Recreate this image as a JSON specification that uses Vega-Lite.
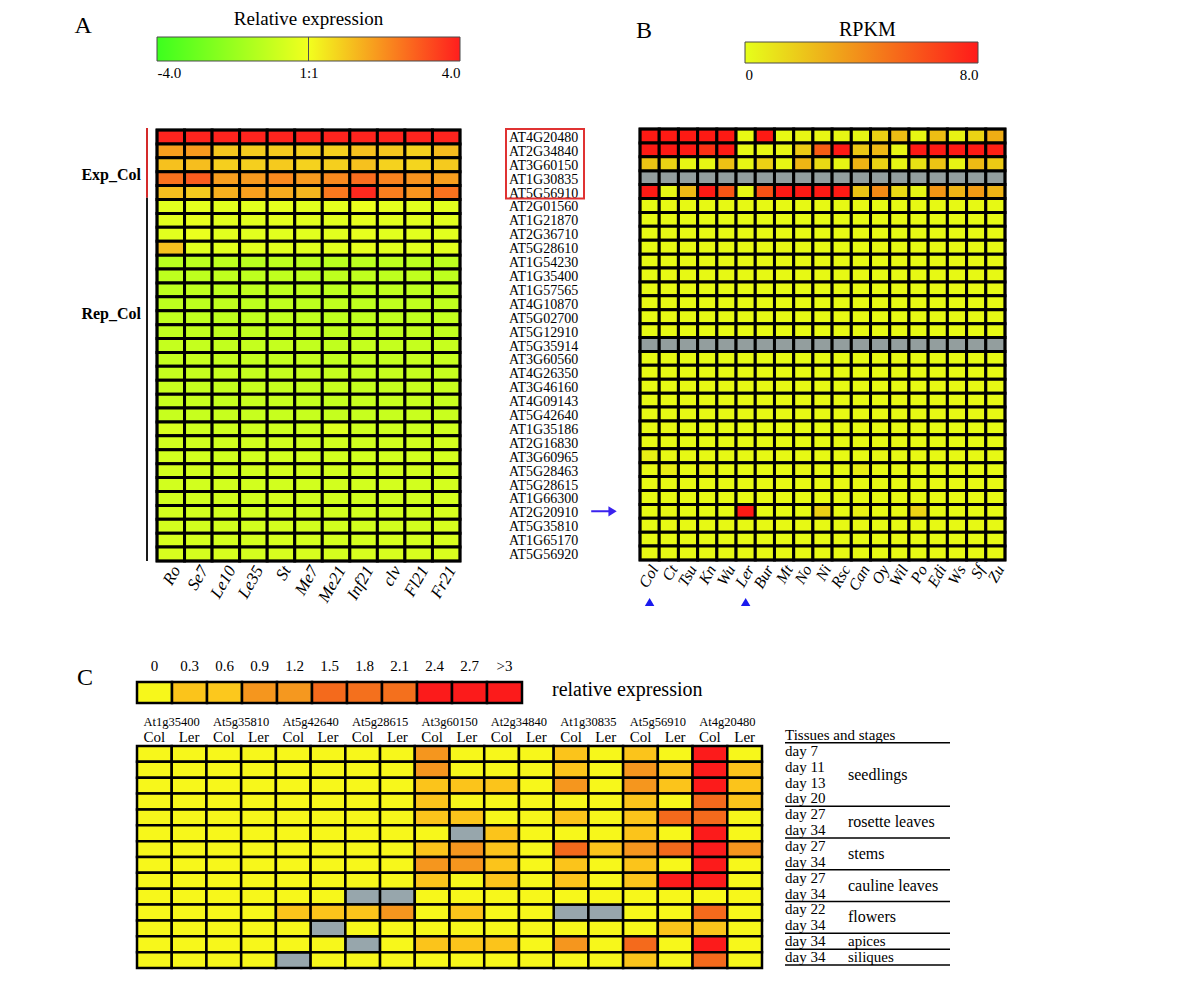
{
"$schema":"https://vega.github.io/schema/vega-lite/v6.json",
"width":1200,"height":1005,"padding":0,"autosize":"none","background":"white",
"config":{"view":{"stroke":null},"axis":{"grid":false,"domain":false,"ticks":false,"labelFont":"Liberation Serif","titleFont":"Liberation Serif","labelColor":"black","titleColor":"black"},"text":{"font":"Liberation Serif","color":"black"}},
"datasets":{
"genes":[{"g":"AT4G20480"},{"g":"AT2G34840"},{"g":"AT3G60150"},{"g":"AT1G30835"},{"g":"AT5G56910"},{"g":"AT2G01560"},{"g":"AT1G21870"},{"g":"AT2G36710"},{"g":"AT5G28610"},{"g":"AT1G54230"},{"g":"AT1G35400"},{"g":"AT1G57565"},{"g":"AT4G10870"},{"g":"AT5G02700"},{"g":"AT5G12910"},{"g":"AT5G35914"},{"g":"AT3G60560"},{"g":"AT4G26350"},{"g":"AT3G46160"},{"g":"AT4G09143"},{"g":"AT5G42640"},{"g":"AT1G35186"},{"g":"AT2G16830"},{"g":"AT3G60965"},{"g":"AT5G28463"},{"g":"AT5G28615"},{"g":"AT1G66300"},{"g":"AT2G20910"},{"g":"AT5G35810"},{"g":"AT1G65170"},{"g":"AT5G56920"}],
"A":[
{"g":"AT4G20480","s":"Ro","v":3.9},{"g":"AT4G20480","s":"Se7","v":3.9},{"g":"AT4G20480","s":"Le10","v":3.9},{"g":"AT4G20480","s":"Le35","v":3.9},{"g":"AT4G20480","s":"St","v":3.9},{"g":"AT4G20480","s":"Me7","v":3.9},{"g":"AT4G20480","s":"Me21","v":3.9},{"g":"AT4G20480","s":"Inf21","v":3.9},{"g":"AT4G20480","s":"clv","v":3.9},{"g":"AT4G20480","s":"Fl21","v":3.9},{"g":"AT4G20480","s":"Fr21","v":3.9},
{"g":"AT2G34840","s":"Ro","v":1.7},{"g":"AT2G34840","s":"Se7","v":1.8},{"g":"AT2G34840","s":"Le10","v":1.0},{"g":"AT2G34840","s":"Le35","v":0.9},{"g":"AT2G34840","s":"St","v":0.95},{"g":"AT2G34840","s":"Me7","v":0.85},{"g":"AT2G34840","s":"Me21","v":0.85},{"g":"AT2G34840","s":"Inf21","v":1.1},{"g":"AT2G34840","s":"clv","v":1.0},{"g":"AT2G34840","s":"Fl21","v":0.8},{"g":"AT2G34840","s":"Fr21","v":1.2},
{"g":"AT3G60150","s":"Ro","v":1.1},{"g":"AT3G60150","s":"Se7","v":1.15},{"g":"AT3G60150","s":"Le10","v":0.85},{"g":"AT3G60150","s":"Le35","v":0.85},{"g":"AT3G60150","s":"St","v":0.95},{"g":"AT3G60150","s":"Me7","v":0.8},{"g":"AT3G60150","s":"Me21","v":0.85},{"g":"AT3G60150","s":"Inf21","v":1.1},{"g":"AT3G60150","s":"clv","v":0.8},{"g":"AT3G60150","s":"Fl21","v":0.75},{"g":"AT3G60150","s":"Fr21","v":0.95},
{"g":"AT1G30835","s":"Ro","v":2.5},{"g":"AT1G30835","s":"Se7","v":2.9},{"g":"AT1G30835","s":"Le10","v":1.7},{"g":"AT1G30835","s":"Le35","v":1.8},{"g":"AT1G30835","s":"St","v":2.1},{"g":"AT1G30835","s":"Me7","v":1.8},{"g":"AT1G30835","s":"Me21","v":2.1},{"g":"AT1G30835","s":"Inf21","v":2.6},{"g":"AT1G30835","s":"clv","v":2.2},{"g":"AT1G30835","s":"Fl21","v":1.9},{"g":"AT1G30835","s":"Fr21","v":1.7},
{"g":"AT5G56910","s":"Ro","v":1.15},{"g":"AT5G56910","s":"Se7","v":0.95},{"g":"AT5G56910","s":"Le10","v":1.4},{"g":"AT5G56910","s":"Le35","v":1.7},{"g":"AT5G56910","s":"St","v":1.5},{"g":"AT5G56910","s":"Me7","v":1.3},{"g":"AT5G56910","s":"Me21","v":2.4},{"g":"AT5G56910","s":"Inf21","v":3.8},{"g":"AT5G56910","s":"clv","v":2.3},{"g":"AT5G56910","s":"Fl21","v":1.9},{"g":"AT5G56910","s":"Fr21","v":2.5},
{"g":"AT2G01560","s":"Ro","v":-0.35},{"g":"AT2G01560","s":"Se7","v":-0.3},{"g":"AT2G01560","s":"Le10","v":-0.35},{"g":"AT2G01560","s":"Le35","v":-0.35},{"g":"AT2G01560","s":"St","v":-0.3},{"g":"AT2G01560","s":"Me7","v":-0.35},{"g":"AT2G01560","s":"Me21","v":-0.3},{"g":"AT2G01560","s":"Inf21","v":-0.15},{"g":"AT2G01560","s":"clv","v":-0.3},{"g":"AT2G01560","s":"Fl21","v":-0.35},{"g":"AT2G01560","s":"Fr21","v":-0.35},
{"g":"AT1G21870","s":"Ro","v":-0.35},{"g":"AT1G21870","s":"Se7","v":-0.25},{"g":"AT1G21870","s":"Le10","v":-0.35},{"g":"AT1G21870","s":"Le35","v":-0.35},{"g":"AT1G21870","s":"St","v":-0.3},{"g":"AT1G21870","s":"Me7","v":-0.35},{"g":"AT1G21870","s":"Me21","v":-0.35},{"g":"AT1G21870","s":"Inf21","v":-0.25},{"g":"AT1G21870","s":"clv","v":-0.35},{"g":"AT1G21870","s":"Fl21","v":-0.35},{"g":"AT1G21870","s":"Fr21","v":-0.35},
{"g":"AT2G36710","s":"Ro","v":-0.35},{"g":"AT2G36710","s":"Se7","v":-0.15},{"g":"AT2G36710","s":"Le10","v":-0.35},{"g":"AT2G36710","s":"Le35","v":-0.35},{"g":"AT2G36710","s":"St","v":-0.35},{"g":"AT2G36710","s":"Me7","v":-0.35},{"g":"AT2G36710","s":"Me21","v":-0.35},{"g":"AT2G36710","s":"Inf21","v":-0.25},{"g":"AT2G36710","s":"clv","v":-0.35},{"g":"AT2G36710","s":"Fl21","v":-0.35},{"g":"AT2G36710","s":"Fr21","v":-0.35},
{"g":"AT5G28610","s":"Ro","v":1.1},{"g":"AT5G28610","s":"Se7","v":-0.35},{"g":"AT5G28610","s":"Le10","v":-0.35},{"g":"AT5G28610","s":"Le35","v":-0.35},{"g":"AT5G28610","s":"St","v":-0.35},{"g":"AT5G28610","s":"Me7","v":-0.35},{"g":"AT5G28610","s":"Me21","v":-0.35},{"g":"AT5G28610","s":"Inf21","v":-0.25},{"g":"AT5G28610","s":"clv","v":-0.35},{"g":"AT5G28610","s":"Fl21","v":-0.35},{"g":"AT5G28610","s":"Fr21","v":-0.35},
{"g":"AT1G54230","s":"Ro","v":-1.25},{"g":"AT1G54230","s":"Se7","v":-1.2},{"g":"AT1G54230","s":"Le10","v":-1.15},{"g":"AT1G54230","s":"Le35","v":-1.25},{"g":"AT1G54230","s":"St","v":-1.15},{"g":"AT1G54230","s":"Me7","v":-1.2},{"g":"AT1G54230","s":"Me21","v":-1.25},{"g":"AT1G54230","s":"Inf21","v":-1.2},{"g":"AT1G54230","s":"clv","v":-1.15},{"g":"AT1G54230","s":"Fl21","v":-1.2},{"g":"AT1G54230","s":"Fr21","v":-1.15},
{"g":"AT1G35400","s":"Ro","v":-1.15},{"g":"AT1G35400","s":"Se7","v":-1.15},{"g":"AT1G35400","s":"Le10","v":-1.1},{"g":"AT1G35400","s":"Le35","v":-1.15},{"g":"AT1G35400","s":"St","v":-1.1},{"g":"AT1G35400","s":"Me7","v":-1.15},{"g":"AT1G35400","s":"Me21","v":-1.15},{"g":"AT1G35400","s":"Inf21","v":-1.1},{"g":"AT1G35400","s":"clv","v":-1.15},{"g":"AT1G35400","s":"Fl21","v":-1.1},{"g":"AT1G35400","s":"Fr21","v":-1.15},
{"g":"AT1G57565","s":"Ro","v":-1.15},{"g":"AT1G57565","s":"Se7","v":-1.1},{"g":"AT1G57565","s":"Le10","v":-1.15},{"g":"AT1G57565","s":"Le35","v":-1.1},{"g":"AT1G57565","s":"St","v":-1.15},{"g":"AT1G57565","s":"Me7","v":-1.1},{"g":"AT1G57565","s":"Me21","v":-1.15},{"g":"AT1G57565","s":"Inf21","v":-1.1},{"g":"AT1G57565","s":"clv","v":-1.1},{"g":"AT1G57565","s":"Fl21","v":-1.15},{"g":"AT1G57565","s":"Fr21","v":-1.05},
{"g":"AT4G10870","s":"Ro","v":-1.15},{"g":"AT4G10870","s":"Se7","v":-1.15},{"g":"AT4G10870","s":"Le10","v":-1.1},{"g":"AT4G10870","s":"Le35","v":-1.15},{"g":"AT4G10870","s":"St","v":-1.1},{"g":"AT4G10870","s":"Me7","v":-1.15},{"g":"AT4G10870","s":"Me21","v":-1.1},{"g":"AT4G10870","s":"Inf21","v":-1.15},{"g":"AT4G10870","s":"clv","v":-1.1},{"g":"AT4G10870","s":"Fl21","v":-1.1},{"g":"AT4G10870","s":"Fr21","v":-1.1},
{"g":"AT5G02700","s":"Ro","v":-1.1},{"g":"AT5G02700","s":"Se7","v":-1.1},{"g":"AT5G02700","s":"Le10","v":-1.15},{"g":"AT5G02700","s":"Le35","v":-1.1},{"g":"AT5G02700","s":"St","v":-1.1},{"g":"AT5G02700","s":"Me7","v":-1.1},{"g":"AT5G02700","s":"Me21","v":-1.15},{"g":"AT5G02700","s":"Inf21","v":-1.1},{"g":"AT5G02700","s":"clv","v":-1.1},{"g":"AT5G02700","s":"Fl21","v":-1.15},{"g":"AT5G02700","s":"Fr21","v":-1.05},
{"g":"AT5G12910","s":"Ro","v":-1.1},{"g":"AT5G12910","s":"Se7","v":-1.05},{"g":"AT5G12910","s":"Le10","v":-1.1},{"g":"AT5G12910","s":"Le35","v":-1.1},{"g":"AT5G12910","s":"St","v":-1.05},{"g":"AT5G12910","s":"Me7","v":-1.1},{"g":"AT5G12910","s":"Me21","v":-1.1},{"g":"AT5G12910","s":"Inf21","v":-1.05},{"g":"AT5G12910","s":"clv","v":-1.1},{"g":"AT5G12910","s":"Fl21","v":-1.05},{"g":"AT5G12910","s":"Fr21","v":-1.05},
{"g":"AT5G35914","s":"Ro","v":-1.0},{"g":"AT5G35914","s":"Se7","v":-1.0},{"g":"AT5G35914","s":"Le10","v":-1.05},{"g":"AT5G35914","s":"Le35","v":-1.0},{"g":"AT5G35914","s":"St","v":-1.0},{"g":"AT5G35914","s":"Me7","v":-1.05},{"g":"AT5G35914","s":"Me21","v":-1.1},{"g":"AT5G35914","s":"Inf21","v":-1.0},{"g":"AT5G35914","s":"clv","v":-1.0},{"g":"AT5G35914","s":"Fl21","v":-1.0},{"g":"AT5G35914","s":"Fr21","v":-0.95},
{"g":"AT3G60560","s":"Ro","v":-1.0},{"g":"AT3G60560","s":"Se7","v":-0.95},{"g":"AT3G60560","s":"Le10","v":-1.0},{"g":"AT3G60560","s":"Le35","v":-1.0},{"g":"AT3G60560","s":"St","v":-1.0},{"g":"AT3G60560","s":"Me7","v":-1.0},{"g":"AT3G60560","s":"Me21","v":-1.05},{"g":"AT3G60560","s":"Inf21","v":-1.0},{"g":"AT3G60560","s":"clv","v":-1.0},{"g":"AT3G60560","s":"Fl21","v":-0.95},{"g":"AT3G60560","s":"Fr21","v":-0.95},
{"g":"AT4G26350","s":"Ro","v":-1.0},{"g":"AT4G26350","s":"Se7","v":-1.0},{"g":"AT4G26350","s":"Le10","v":-0.95},{"g":"AT4G26350","s":"Le35","v":-1.0},{"g":"AT4G26350","s":"St","v":-1.0},{"g":"AT4G26350","s":"Me7","v":-0.95},{"g":"AT4G26350","s":"Me21","v":-1.0},{"g":"AT4G26350","s":"Inf21","v":-1.0},{"g":"AT4G26350","s":"clv","v":-0.95},{"g":"AT4G26350","s":"Fl21","v":-1.0},{"g":"AT4G26350","s":"Fr21","v":-0.95},
{"g":"AT3G46160","s":"Ro","v":-0.95},{"g":"AT3G46160","s":"Se7","v":-1.0},{"g":"AT3G46160","s":"Le10","v":-1.0},{"g":"AT3G46160","s":"Le35","v":-0.95},{"g":"AT3G46160","s":"St","v":-1.0},{"g":"AT3G46160","s":"Me7","v":-1.0},{"g":"AT3G46160","s":"Me21","v":-0.95},{"g":"AT3G46160","s":"Inf21","v":-1.0},{"g":"AT3G46160","s":"clv","v":-1.0},{"g":"AT3G46160","s":"Fl21","v":-0.95},{"g":"AT3G46160","s":"Fr21","v":-0.9},
{"g":"AT4G09143","s":"Ro","v":-0.95},{"g":"AT4G09143","s":"Se7","v":-0.95},{"g":"AT4G09143","s":"Le10","v":-1.0},{"g":"AT4G09143","s":"Le35","v":-0.95},{"g":"AT4G09143","s":"St","v":-0.95},{"g":"AT4G09143","s":"Me7","v":-1.0},{"g":"AT4G09143","s":"Me21","v":-1.0},{"g":"AT4G09143","s":"Inf21","v":-0.95},{"g":"AT4G09143","s":"clv","v":-0.95},{"g":"AT4G09143","s":"Fl21","v":-0.95},{"g":"AT4G09143","s":"Fr21","v":-0.9},
{"g":"AT5G42640","s":"Ro","v":-0.95},{"g":"AT5G42640","s":"Se7","v":-0.95},{"g":"AT5G42640","s":"Le10","v":-0.95},{"g":"AT5G42640","s":"Le35","v":-0.95},{"g":"AT5G42640","s":"St","v":-0.95},{"g":"AT5G42640","s":"Me7","v":-0.95},{"g":"AT5G42640","s":"Me21","v":-1.0},{"g":"AT5G42640","s":"Inf21","v":-0.95},{"g":"AT5G42640","s":"clv","v":-0.95},{"g":"AT5G42640","s":"Fl21","v":-0.9},{"g":"AT5G42640","s":"Fr21","v":-0.9},
{"g":"AT1G35186","s":"Ro","v":-0.55},{"g":"AT1G35186","s":"Se7","v":-0.8},{"g":"AT1G35186","s":"Le10","v":-0.8},{"g":"AT1G35186","s":"Le35","v":-0.8},{"g":"AT1G35186","s":"St","v":-0.8},{"g":"AT1G35186","s":"Me7","v":-0.8},{"g":"AT1G35186","s":"Me21","v":-0.45},{"g":"AT1G35186","s":"Inf21","v":-0.8},{"g":"AT1G35186","s":"clv","v":-0.8},{"g":"AT1G35186","s":"Fl21","v":-0.8},{"g":"AT1G35186","s":"Fr21","v":-0.75},
{"g":"AT2G16830","s":"Ro","v":-0.7},{"g":"AT2G16830","s":"Se7","v":-0.75},{"g":"AT2G16830","s":"Le10","v":-0.75},{"g":"AT2G16830","s":"Le35","v":-0.7},{"g":"AT2G16830","s":"St","v":-0.7},{"g":"AT2G16830","s":"Me7","v":-0.75},{"g":"AT2G16830","s":"Me21","v":-0.7},{"g":"AT2G16830","s":"Inf21","v":-0.75},{"g":"AT2G16830","s":"clv","v":-0.7},{"g":"AT2G16830","s":"Fl21","v":-0.7},{"g":"AT2G16830","s":"Fr21","v":-0.65},
{"g":"AT3G60965","s":"Ro","v":-0.7},{"g":"AT3G60965","s":"Se7","v":-0.7},{"g":"AT3G60965","s":"Le10","v":-0.75},{"g":"AT3G60965","s":"Le35","v":-0.7},{"g":"AT3G60965","s":"St","v":-0.7},{"g":"AT3G60965","s":"Me7","v":-0.7},{"g":"AT3G60965","s":"Me21","v":-0.7},{"g":"AT3G60965","s":"Inf21","v":-0.7},{"g":"AT3G60965","s":"clv","v":-0.7},{"g":"AT3G60965","s":"Fl21","v":-0.7},{"g":"AT3G60965","s":"Fr21","v":-0.65},
{"g":"AT5G28463","s":"Ro","v":-0.7},{"g":"AT5G28463","s":"Se7","v":-0.7},{"g":"AT5G28463","s":"Le10","v":-0.7},{"g":"AT5G28463","s":"Le35","v":-0.7},{"g":"AT5G28463","s":"St","v":-0.65},{"g":"AT5G28463","s":"Me7","v":-0.7},{"g":"AT5G28463","s":"Me21","v":-0.7},{"g":"AT5G28463","s":"Inf21","v":-0.7},{"g":"AT5G28463","s":"clv","v":-0.7},{"g":"AT5G28463","s":"Fl21","v":-0.7},{"g":"AT5G28463","s":"Fr21","v":-0.65},
{"g":"AT5G28615","s":"Ro","v":-0.7},{"g":"AT5G28615","s":"Se7","v":-0.7},{"g":"AT5G28615","s":"Le10","v":-0.7},{"g":"AT5G28615","s":"Le35","v":-0.7},{"g":"AT5G28615","s":"St","v":-0.7},{"g":"AT5G28615","s":"Me7","v":-0.7},{"g":"AT5G28615","s":"Me21","v":-0.7},{"g":"AT5G28615","s":"Inf21","v":-0.7},{"g":"AT5G28615","s":"clv","v":-0.65},{"g":"AT5G28615","s":"Fl21","v":-0.7},{"g":"AT5G28615","s":"Fr21","v":-0.65},
{"g":"AT1G66300","s":"Ro","v":-0.7},{"g":"AT1G66300","s":"Se7","v":-0.7},{"g":"AT1G66300","s":"Le10","v":-0.7},{"g":"AT1G66300","s":"Le35","v":-0.7},{"g":"AT1G66300","s":"St","v":-0.65},{"g":"AT1G66300","s":"Me7","v":-0.7},{"g":"AT1G66300","s":"Me21","v":-0.7},{"g":"AT1G66300","s":"Inf21","v":-0.7},{"g":"AT1G66300","s":"clv","v":-0.7},{"g":"AT1G66300","s":"Fl21","v":-0.7},{"g":"AT1G66300","s":"Fr21","v":-0.65},
{"g":"AT2G20910","s":"Ro","v":-0.65},{"g":"AT2G20910","s":"Se7","v":-0.7},{"g":"AT2G20910","s":"Le10","v":-0.7},{"g":"AT2G20910","s":"Le35","v":-0.7},{"g":"AT2G20910","s":"St","v":-0.7},{"g":"AT2G20910","s":"Me7","v":-0.7},{"g":"AT2G20910","s":"Me21","v":-0.7},{"g":"AT2G20910","s":"Inf21","v":-0.7},{"g":"AT2G20910","s":"clv","v":-0.65},{"g":"AT2G20910","s":"Fl21","v":-0.7},{"g":"AT2G20910","s":"Fr21","v":-0.6},
{"g":"AT5G35810","s":"Ro","v":-0.65},{"g":"AT5G35810","s":"Se7","v":-0.7},{"g":"AT5G35810","s":"Le10","v":-0.7},{"g":"AT5G35810","s":"Le35","v":-0.7},{"g":"AT5G35810","s":"St","v":-0.65},{"g":"AT5G35810","s":"Me7","v":-0.7},{"g":"AT5G35810","s":"Me21","v":-0.7},{"g":"AT5G35810","s":"Inf21","v":-0.7},{"g":"AT5G35810","s":"clv","v":-0.7},{"g":"AT5G35810","s":"Fl21","v":-0.7},{"g":"AT5G35810","s":"Fr21","v":-0.6},
{"g":"AT1G65170","s":"Ro","v":-0.6},{"g":"AT1G65170","s":"Se7","v":-0.65},{"g":"AT1G65170","s":"Le10","v":-0.65},{"g":"AT1G65170","s":"Le35","v":-0.65},{"g":"AT1G65170","s":"St","v":-0.6},{"g":"AT1G65170","s":"Me7","v":-0.65},{"g":"AT1G65170","s":"Me21","v":-0.65},{"g":"AT1G65170","s":"Inf21","v":-0.65},{"g":"AT1G65170","s":"clv","v":-0.6},{"g":"AT1G65170","s":"Fl21","v":-0.65},{"g":"AT1G65170","s":"Fr21","v":-0.55},
{"g":"AT5G56920","s":"Ro","v":-0.6},{"g":"AT5G56920","s":"Se7","v":-0.65},{"g":"AT5G56920","s":"Le10","v":-0.6},{"g":"AT5G56920","s":"Le35","v":-0.65},{"g":"AT5G56920","s":"St","v":-0.6},{"g":"AT5G56920","s":"Me7","v":-0.6},{"g":"AT5G56920","s":"Me21","v":-0.65},{"g":"AT5G56920","s":"Inf21","v":-0.6},{"g":"AT5G56920","s":"clv","v":-0.6},{"g":"AT5G56920","s":"Fl21","v":-0.6},{"g":"AT5G56920","s":"Fr21","v":-0.55}
],
"B":[
{"g":"AT4G20480","s":"Col","v":7.8},{"g":"AT4G20480","s":"Ct","v":7.8},{"g":"AT4G20480","s":"Tsu","v":7.8},{"g":"AT4G20480","s":"Kn","v":7.8},{"g":"AT4G20480","s":"Wu","v":7.8},{"g":"AT4G20480","s":"Ler","v":0.2},{"g":"AT4G20480","s":"Bur","v":7.8},{"g":"AT4G20480","s":"Mt","v":0.2},{"g":"AT4G20480","s":"No","v":0.3},{"g":"AT4G20480","s":"Ni","v":0.3},{"g":"AT4G20480","s":"Rsc","v":0.3},{"g":"AT4G20480","s":"Can","v":0.3},{"g":"AT4G20480","s":"Oy","v":1.6},{"g":"AT4G20480","s":"Wil","v":2.2},{"g":"AT4G20480","s":"Po","v":0.3},{"g":"AT4G20480","s":"Edi","v":2.2},{"g":"AT4G20480","s":"Ws","v":0.4},{"g":"AT4G20480","s":"Sf","v":1.5},{"g":"AT4G20480","s":"Zu","v":2.8},
{"g":"AT2G34840","s":"Col","v":7.8},{"g":"AT2G34840","s":"Ct","v":7.8},{"g":"AT2G34840","s":"Tsu","v":7.8},{"g":"AT2G34840","s":"Kn","v":7.0},{"g":"AT2G34840","s":"Wu","v":7.8},{"g":"AT2G34840","s":"Ler","v":0.2},{"g":"AT2G34840","s":"Bur","v":0.3},{"g":"AT2G34840","s":"Mt","v":0.3},{"g":"AT2G34840","s":"No","v":1.8},{"g":"AT2G34840","s":"Ni","v":5.5},{"g":"AT2G34840","s":"Rsc","v":7.8},{"g":"AT2G34840","s":"Can","v":1.9},{"g":"AT2G34840","s":"Oy","v":2.4},{"g":"AT2G34840","s":"Wil","v":0.3},{"g":"AT2G34840","s":"Po","v":7.8},{"g":"AT2G34840","s":"Edi","v":7.8},{"g":"AT2G34840","s":"Ws","v":7.8},{"g":"AT2G34840","s":"Sf","v":7.8},{"g":"AT2G34840","s":"Zu","v":7.6},
{"g":"AT3G60150","s":"Col","v":2.0},{"g":"AT3G60150","s":"Ct","v":1.5},{"g":"AT3G60150","s":"Tsu","v":0.3},{"g":"AT3G60150","s":"Kn","v":0.3},{"g":"AT3G60150","s":"Wu","v":2.1},{"g":"AT3G60150","s":"Ler","v":0.3},{"g":"AT3G60150","s":"Bur","v":1.6},{"g":"AT3G60150","s":"Mt","v":0.3},{"g":"AT3G60150","s":"No","v":2.5},{"g":"AT3G60150","s":"Ni","v":1.3},{"g":"AT3G60150","s":"Rsc","v":0.3},{"g":"AT3G60150","s":"Can","v":2.6},{"g":"AT3G60150","s":"Oy","v":1.5},{"g":"AT3G60150","s":"Wil","v":0.3},{"g":"AT3G60150","s":"Po","v":1.0},{"g":"AT3G60150","s":"Edi","v":2.0},{"g":"AT3G60150","s":"Ws","v":0.4},{"g":"AT3G60150","s":"Sf","v":2.3},{"g":"AT3G60150","s":"Zu","v":1.8},
{"g":"AT1G30835","s":"Col","v":null},{"g":"AT1G30835","s":"Ct","v":null},{"g":"AT1G30835","s":"Tsu","v":null},{"g":"AT1G30835","s":"Kn","v":null},{"g":"AT1G30835","s":"Wu","v":null},{"g":"AT1G30835","s":"Ler","v":null},{"g":"AT1G30835","s":"Bur","v":null},{"g":"AT1G30835","s":"Mt","v":null},{"g":"AT1G30835","s":"No","v":null},{"g":"AT1G30835","s":"Ni","v":null},{"g":"AT1G30835","s":"Rsc","v":null},{"g":"AT1G30835","s":"Can","v":null},{"g":"AT1G30835","s":"Oy","v":null},{"g":"AT1G30835","s":"Wil","v":null},{"g":"AT1G30835","s":"Po","v":null},{"g":"AT1G30835","s":"Edi","v":null},{"g":"AT1G30835","s":"Ws","v":null},{"g":"AT1G30835","s":"Sf","v":null},{"g":"AT1G30835","s":"Zu","v":null},
{"g":"AT5G56910","s":"Col","v":7.8},{"g":"AT5G56910","s":"Ct","v":0.3},{"g":"AT5G56910","s":"Tsu","v":2.4},{"g":"AT5G56910","s":"Kn","v":7.8},{"g":"AT5G56910","s":"Wu","v":5.8},{"g":"AT5G56910","s":"Ler","v":0.3},{"g":"AT5G56910","s":"Bur","v":5.9},{"g":"AT5G56910","s":"Mt","v":7.8},{"g":"AT5G56910","s":"No","v":7.8},{"g":"AT5G56910","s":"Ni","v":7.8},{"g":"AT5G56910","s":"Rsc","v":7.8},{"g":"AT5G56910","s":"Can","v":2.0},{"g":"AT5G56910","s":"Oy","v":4.0},{"g":"AT5G56910","s":"Wil","v":1.3},{"g":"AT5G56910","s":"Po","v":0.4},{"g":"AT5G56910","s":"Edi","v":3.6},{"g":"AT5G56910","s":"Ws","v":2.6},{"g":"AT5G56910","s":"Sf","v":3.4},{"g":"AT5G56910","s":"Zu","v":2.6},
{"g":"AT2G01560","s":"Col","v":0.2},{"g":"AT2G01560","s":"Ct","v":0.2},{"g":"AT2G01560","s":"Tsu","v":0.2},{"g":"AT2G01560","s":"Kn","v":0.2},{"g":"AT2G01560","s":"Wu","v":0.2},{"g":"AT2G01560","s":"Ler","v":0.2},{"g":"AT2G01560","s":"Bur","v":0.2},{"g":"AT2G01560","s":"Mt","v":0.2},{"g":"AT2G01560","s":"No","v":0.2},{"g":"AT2G01560","s":"Ni","v":0.2},{"g":"AT2G01560","s":"Rsc","v":0.2},{"g":"AT2G01560","s":"Can","v":0.2},{"g":"AT2G01560","s":"Oy","v":0.2},{"g":"AT2G01560","s":"Wil","v":0.2},{"g":"AT2G01560","s":"Po","v":0.2},{"g":"AT2G01560","s":"Edi","v":0.2},{"g":"AT2G01560","s":"Ws","v":0.2},{"g":"AT2G01560","s":"Sf","v":0.2},{"g":"AT2G01560","s":"Zu","v":0.2},
{"g":"AT1G21870","s":"Col","v":0.2},{"g":"AT1G21870","s":"Ct","v":0.2},{"g":"AT1G21870","s":"Tsu","v":0.2},{"g":"AT1G21870","s":"Kn","v":0.2},{"g":"AT1G21870","s":"Wu","v":0.2},{"g":"AT1G21870","s":"Ler","v":0.2},{"g":"AT1G21870","s":"Bur","v":0.2},{"g":"AT1G21870","s":"Mt","v":0.2},{"g":"AT1G21870","s":"No","v":0.2},{"g":"AT1G21870","s":"Ni","v":0.2},{"g":"AT1G21870","s":"Rsc","v":0.2},{"g":"AT1G21870","s":"Can","v":0.2},{"g":"AT1G21870","s":"Oy","v":0.2},{"g":"AT1G21870","s":"Wil","v":0.2},{"g":"AT1G21870","s":"Po","v":0.2},{"g":"AT1G21870","s":"Edi","v":0.2},{"g":"AT1G21870","s":"Ws","v":0.2},{"g":"AT1G21870","s":"Sf","v":0.2},{"g":"AT1G21870","s":"Zu","v":0.2},
{"g":"AT2G36710","s":"Col","v":0.2},{"g":"AT2G36710","s":"Ct","v":0.2},{"g":"AT2G36710","s":"Tsu","v":0.2},{"g":"AT2G36710","s":"Kn","v":0.2},{"g":"AT2G36710","s":"Wu","v":0.2},{"g":"AT2G36710","s":"Ler","v":0.2},{"g":"AT2G36710","s":"Bur","v":0.2},{"g":"AT2G36710","s":"Mt","v":0.2},{"g":"AT2G36710","s":"No","v":0.2},{"g":"AT2G36710","s":"Ni","v":0.2},{"g":"AT2G36710","s":"Rsc","v":0.2},{"g":"AT2G36710","s":"Can","v":0.2},{"g":"AT2G36710","s":"Oy","v":0.2},{"g":"AT2G36710","s":"Wil","v":0.2},{"g":"AT2G36710","s":"Po","v":0.2},{"g":"AT2G36710","s":"Edi","v":0.2},{"g":"AT2G36710","s":"Ws","v":0.2},{"g":"AT2G36710","s":"Sf","v":0.2},{"g":"AT2G36710","s":"Zu","v":0.2},
{"g":"AT5G28610","s":"Col","v":0.2},{"g":"AT5G28610","s":"Ct","v":0.2},{"g":"AT5G28610","s":"Tsu","v":0.2},{"g":"AT5G28610","s":"Kn","v":0.2},{"g":"AT5G28610","s":"Wu","v":0.2},{"g":"AT5G28610","s":"Ler","v":0.2},{"g":"AT5G28610","s":"Bur","v":0.2},{"g":"AT5G28610","s":"Mt","v":0.3},{"g":"AT5G28610","s":"No","v":0.2},{"g":"AT5G28610","s":"Ni","v":0.2},{"g":"AT5G28610","s":"Rsc","v":0.2},{"g":"AT5G28610","s":"Can","v":0.2},{"g":"AT5G28610","s":"Oy","v":0.3},{"g":"AT5G28610","s":"Wil","v":0.2},{"g":"AT5G28610","s":"Po","v":0.2},{"g":"AT5G28610","s":"Edi","v":0.2},{"g":"AT5G28610","s":"Ws","v":0.2},{"g":"AT5G28610","s":"Sf","v":0.2},{"g":"AT5G28610","s":"Zu","v":0.2},
{"g":"AT1G54230","s":"Col","v":0.2},{"g":"AT1G54230","s":"Ct","v":0.2},{"g":"AT1G54230","s":"Tsu","v":0.2},{"g":"AT1G54230","s":"Kn","v":0.2},{"g":"AT1G54230","s":"Wu","v":0.2},{"g":"AT1G54230","s":"Ler","v":0.2},{"g":"AT1G54230","s":"Bur","v":0.2},{"g":"AT1G54230","s":"Mt","v":0.2},{"g":"AT1G54230","s":"No","v":0.2},{"g":"AT1G54230","s":"Ni","v":0.2},{"g":"AT1G54230","s":"Rsc","v":0.2},{"g":"AT1G54230","s":"Can","v":0.2},{"g":"AT1G54230","s":"Oy","v":0.2},{"g":"AT1G54230","s":"Wil","v":0.2},{"g":"AT1G54230","s":"Po","v":0.2},{"g":"AT1G54230","s":"Edi","v":0.2},{"g":"AT1G54230","s":"Ws","v":0.2},{"g":"AT1G54230","s":"Sf","v":0.2},{"g":"AT1G54230","s":"Zu","v":0.2},
{"g":"AT1G35400","s":"Col","v":0.2},{"g":"AT1G35400","s":"Ct","v":0.2},{"g":"AT1G35400","s":"Tsu","v":0.2},{"g":"AT1G35400","s":"Kn","v":0.2},{"g":"AT1G35400","s":"Wu","v":0.2},{"g":"AT1G35400","s":"Ler","v":0.2},{"g":"AT1G35400","s":"Bur","v":0.2},{"g":"AT1G35400","s":"Mt","v":0.2},{"g":"AT1G35400","s":"No","v":0.2},{"g":"AT1G35400","s":"Ni","v":0.2},{"g":"AT1G35400","s":"Rsc","v":0.2},{"g":"AT1G35400","s":"Can","v":0.2},{"g":"AT1G35400","s":"Oy","v":0.2},{"g":"AT1G35400","s":"Wil","v":0.2},{"g":"AT1G35400","s":"Po","v":0.2},{"g":"AT1G35400","s":"Edi","v":0.2},{"g":"AT1G35400","s":"Ws","v":0.2},{"g":"AT1G35400","s":"Sf","v":0.2},{"g":"AT1G35400","s":"Zu","v":0.2},
{"g":"AT1G57565","s":"Col","v":0.2},{"g":"AT1G57565","s":"Ct","v":0.2},{"g":"AT1G57565","s":"Tsu","v":0.2},{"g":"AT1G57565","s":"Kn","v":0.2},{"g":"AT1G57565","s":"Wu","v":0.2},{"g":"AT1G57565","s":"Ler","v":0.2},{"g":"AT1G57565","s":"Bur","v":0.2},{"g":"AT1G57565","s":"Mt","v":0.2},{"g":"AT1G57565","s":"No","v":0.2},{"g":"AT1G57565","s":"Ni","v":0.2},{"g":"AT1G57565","s":"Rsc","v":0.2},{"g":"AT1G57565","s":"Can","v":0.2},{"g":"AT1G57565","s":"Oy","v":0.2},{"g":"AT1G57565","s":"Wil","v":0.2},{"g":"AT1G57565","s":"Po","v":0.2},{"g":"AT1G57565","s":"Edi","v":0.2},{"g":"AT1G57565","s":"Ws","v":0.2},{"g":"AT1G57565","s":"Sf","v":0.2},{"g":"AT1G57565","s":"Zu","v":0.2},
{"g":"AT4G10870","s":"Col","v":0.2},{"g":"AT4G10870","s":"Ct","v":0.2},{"g":"AT4G10870","s":"Tsu","v":0.2},{"g":"AT4G10870","s":"Kn","v":0.2},{"g":"AT4G10870","s":"Wu","v":0.2},{"g":"AT4G10870","s":"Ler","v":0.2},{"g":"AT4G10870","s":"Bur","v":0.2},{"g":"AT4G10870","s":"Mt","v":0.2},{"g":"AT4G10870","s":"No","v":0.2},{"g":"AT4G10870","s":"Ni","v":0.2},{"g":"AT4G10870","s":"Rsc","v":0.2},{"g":"AT4G10870","s":"Can","v":0.2},{"g":"AT4G10870","s":"Oy","v":0.2},{"g":"AT4G10870","s":"Wil","v":0.2},{"g":"AT4G10870","s":"Po","v":0.2},{"g":"AT4G10870","s":"Edi","v":0.2},{"g":"AT4G10870","s":"Ws","v":0.2},{"g":"AT4G10870","s":"Sf","v":0.2},{"g":"AT4G10870","s":"Zu","v":0.2},
{"g":"AT5G02700","s":"Col","v":0.2},{"g":"AT5G02700","s":"Ct","v":0.2},{"g":"AT5G02700","s":"Tsu","v":0.2},{"g":"AT5G02700","s":"Kn","v":0.2},{"g":"AT5G02700","s":"Wu","v":0.2},{"g":"AT5G02700","s":"Ler","v":0.2},{"g":"AT5G02700","s":"Bur","v":0.2},{"g":"AT5G02700","s":"Mt","v":0.2},{"g":"AT5G02700","s":"No","v":0.2},{"g":"AT5G02700","s":"Ni","v":0.2},{"g":"AT5G02700","s":"Rsc","v":0.2},{"g":"AT5G02700","s":"Can","v":0.2},{"g":"AT5G02700","s":"Oy","v":0.2},{"g":"AT5G02700","s":"Wil","v":0.2},{"g":"AT5G02700","s":"Po","v":0.2},{"g":"AT5G02700","s":"Edi","v":0.2},{"g":"AT5G02700","s":"Ws","v":0.2},{"g":"AT5G02700","s":"Sf","v":0.2},{"g":"AT5G02700","s":"Zu","v":0.2},
{"g":"AT5G12910","s":"Col","v":0.2},{"g":"AT5G12910","s":"Ct","v":0.2},{"g":"AT5G12910","s":"Tsu","v":0.2},{"g":"AT5G12910","s":"Kn","v":0.2},{"g":"AT5G12910","s":"Wu","v":0.2},{"g":"AT5G12910","s":"Ler","v":0.2},{"g":"AT5G12910","s":"Bur","v":0.2},{"g":"AT5G12910","s":"Mt","v":0.2},{"g":"AT5G12910","s":"No","v":0.2},{"g":"AT5G12910","s":"Ni","v":0.2},{"g":"AT5G12910","s":"Rsc","v":0.2},{"g":"AT5G12910","s":"Can","v":0.2},{"g":"AT5G12910","s":"Oy","v":0.2},{"g":"AT5G12910","s":"Wil","v":0.2},{"g":"AT5G12910","s":"Po","v":0.2},{"g":"AT5G12910","s":"Edi","v":0.2},{"g":"AT5G12910","s":"Ws","v":0.2},{"g":"AT5G12910","s":"Sf","v":0.2},{"g":"AT5G12910","s":"Zu","v":0.2},
{"g":"AT5G35914","s":"Col","v":null},{"g":"AT5G35914","s":"Ct","v":null},{"g":"AT5G35914","s":"Tsu","v":null},{"g":"AT5G35914","s":"Kn","v":null},{"g":"AT5G35914","s":"Wu","v":null},{"g":"AT5G35914","s":"Ler","v":null},{"g":"AT5G35914","s":"Bur","v":null},{"g":"AT5G35914","s":"Mt","v":null},{"g":"AT5G35914","s":"No","v":null},{"g":"AT5G35914","s":"Ni","v":null},{"g":"AT5G35914","s":"Rsc","v":null},{"g":"AT5G35914","s":"Can","v":null},{"g":"AT5G35914","s":"Oy","v":null},{"g":"AT5G35914","s":"Wil","v":null},{"g":"AT5G35914","s":"Po","v":null},{"g":"AT5G35914","s":"Edi","v":null},{"g":"AT5G35914","s":"Ws","v":null},{"g":"AT5G35914","s":"Sf","v":null},{"g":"AT5G35914","s":"Zu","v":null},
{"g":"AT3G60560","s":"Col","v":0.2},{"g":"AT3G60560","s":"Ct","v":0.2},{"g":"AT3G60560","s":"Tsu","v":0.2},{"g":"AT3G60560","s":"Kn","v":0.2},{"g":"AT3G60560","s":"Wu","v":0.2},{"g":"AT3G60560","s":"Ler","v":0.2},{"g":"AT3G60560","s":"Bur","v":0.2},{"g":"AT3G60560","s":"Mt","v":0.2},{"g":"AT3G60560","s":"No","v":0.2},{"g":"AT3G60560","s":"Ni","v":0.2},{"g":"AT3G60560","s":"Rsc","v":0.2},{"g":"AT3G60560","s":"Can","v":0.2},{"g":"AT3G60560","s":"Oy","v":0.2},{"g":"AT3G60560","s":"Wil","v":0.2},{"g":"AT3G60560","s":"Po","v":0.2},{"g":"AT3G60560","s":"Edi","v":0.2},{"g":"AT3G60560","s":"Ws","v":0.2},{"g":"AT3G60560","s":"Sf","v":0.2},{"g":"AT3G60560","s":"Zu","v":0.2},
{"g":"AT4G26350","s":"Col","v":0.2},{"g":"AT4G26350","s":"Ct","v":0.2},{"g":"AT4G26350","s":"Tsu","v":0.2},{"g":"AT4G26350","s":"Kn","v":0.2},{"g":"AT4G26350","s":"Wu","v":0.2},{"g":"AT4G26350","s":"Ler","v":0.2},{"g":"AT4G26350","s":"Bur","v":0.2},{"g":"AT4G26350","s":"Mt","v":0.2},{"g":"AT4G26350","s":"No","v":0.2},{"g":"AT4G26350","s":"Ni","v":0.2},{"g":"AT4G26350","s":"Rsc","v":0.2},{"g":"AT4G26350","s":"Can","v":0.2},{"g":"AT4G26350","s":"Oy","v":0.2},{"g":"AT4G26350","s":"Wil","v":0.2},{"g":"AT4G26350","s":"Po","v":0.2},{"g":"AT4G26350","s":"Edi","v":0.2},{"g":"AT4G26350","s":"Ws","v":0.2},{"g":"AT4G26350","s":"Sf","v":0.2},{"g":"AT4G26350","s":"Zu","v":0.2},
{"g":"AT3G46160","s":"Col","v":0.2},{"g":"AT3G46160","s":"Ct","v":0.2},{"g":"AT3G46160","s":"Tsu","v":0.2},{"g":"AT3G46160","s":"Kn","v":0.2},{"g":"AT3G46160","s":"Wu","v":0.2},{"g":"AT3G46160","s":"Ler","v":0.2},{"g":"AT3G46160","s":"Bur","v":0.2},{"g":"AT3G46160","s":"Mt","v":0.2},{"g":"AT3G46160","s":"No","v":0.2},{"g":"AT3G46160","s":"Ni","v":0.2},{"g":"AT3G46160","s":"Rsc","v":0.2},{"g":"AT3G46160","s":"Can","v":0.2},{"g":"AT3G46160","s":"Oy","v":0.2},{"g":"AT3G46160","s":"Wil","v":0.2},{"g":"AT3G46160","s":"Po","v":0.2},{"g":"AT3G46160","s":"Edi","v":0.2},{"g":"AT3G46160","s":"Ws","v":0.2},{"g":"AT3G46160","s":"Sf","v":0.2},{"g":"AT3G46160","s":"Zu","v":0.2},
{"g":"AT4G09143","s":"Col","v":0.2},{"g":"AT4G09143","s":"Ct","v":0.2},{"g":"AT4G09143","s":"Tsu","v":0.2},{"g":"AT4G09143","s":"Kn","v":0.2},{"g":"AT4G09143","s":"Wu","v":0.2},{"g":"AT4G09143","s":"Ler","v":0.2},{"g":"AT4G09143","s":"Bur","v":0.2},{"g":"AT4G09143","s":"Mt","v":0.2},{"g":"AT4G09143","s":"No","v":0.2},{"g":"AT4G09143","s":"Ni","v":0.2},{"g":"AT4G09143","s":"Rsc","v":0.2},{"g":"AT4G09143","s":"Can","v":0.2},{"g":"AT4G09143","s":"Oy","v":0.2},{"g":"AT4G09143","s":"Wil","v":0.2},{"g":"AT4G09143","s":"Po","v":0.2},{"g":"AT4G09143","s":"Edi","v":0.2},{"g":"AT4G09143","s":"Ws","v":0.2},{"g":"AT4G09143","s":"Sf","v":0.2},{"g":"AT4G09143","s":"Zu","v":0.2},
{"g":"AT5G42640","s":"Col","v":0.2},{"g":"AT5G42640","s":"Ct","v":0.2},{"g":"AT5G42640","s":"Tsu","v":0.2},{"g":"AT5G42640","s":"Kn","v":0.2},{"g":"AT5G42640","s":"Wu","v":0.2},{"g":"AT5G42640","s":"Ler","v":0.2},{"g":"AT5G42640","s":"Bur","v":0.2},{"g":"AT5G42640","s":"Mt","v":0.2},{"g":"AT5G42640","s":"No","v":0.2},{"g":"AT5G42640","s":"Ni","v":0.2},{"g":"AT5G42640","s":"Rsc","v":0.2},{"g":"AT5G42640","s":"Can","v":0.2},{"g":"AT5G42640","s":"Oy","v":0.2},{"g":"AT5G42640","s":"Wil","v":0.2},{"g":"AT5G42640","s":"Po","v":0.2},{"g":"AT5G42640","s":"Edi","v":0.2},{"g":"AT5G42640","s":"Ws","v":0.2},{"g":"AT5G42640","s":"Sf","v":0.2},{"g":"AT5G42640","s":"Zu","v":0.2},
{"g":"AT1G35186","s":"Col","v":0.2},{"g":"AT1G35186","s":"Ct","v":0.2},{"g":"AT1G35186","s":"Tsu","v":0.2},{"g":"AT1G35186","s":"Kn","v":0.2},{"g":"AT1G35186","s":"Wu","v":0.2},{"g":"AT1G35186","s":"Ler","v":0.2},{"g":"AT1G35186","s":"Bur","v":0.2},{"g":"AT1G35186","s":"Mt","v":0.2},{"g":"AT1G35186","s":"No","v":0.2},{"g":"AT1G35186","s":"Ni","v":0.2},{"g":"AT1G35186","s":"Rsc","v":0.2},{"g":"AT1G35186","s":"Can","v":0.2},{"g":"AT1G35186","s":"Oy","v":0.2},{"g":"AT1G35186","s":"Wil","v":0.2},{"g":"AT1G35186","s":"Po","v":0.2},{"g":"AT1G35186","s":"Edi","v":0.2},{"g":"AT1G35186","s":"Ws","v":0.2},{"g":"AT1G35186","s":"Sf","v":0.2},{"g":"AT1G35186","s":"Zu","v":0.2},
{"g":"AT2G16830","s":"Col","v":0.2},{"g":"AT2G16830","s":"Ct","v":0.2},{"g":"AT2G16830","s":"Tsu","v":0.2},{"g":"AT2G16830","s":"Kn","v":0.2},{"g":"AT2G16830","s":"Wu","v":0.2},{"g":"AT2G16830","s":"Ler","v":0.2},{"g":"AT2G16830","s":"Bur","v":0.2},{"g":"AT2G16830","s":"Mt","v":0.2},{"g":"AT2G16830","s":"No","v":0.2},{"g":"AT2G16830","s":"Ni","v":0.2},{"g":"AT2G16830","s":"Rsc","v":0.2},{"g":"AT2G16830","s":"Can","v":0.2},{"g":"AT2G16830","s":"Oy","v":0.2},{"g":"AT2G16830","s":"Wil","v":0.2},{"g":"AT2G16830","s":"Po","v":0.2},{"g":"AT2G16830","s":"Edi","v":0.2},{"g":"AT2G16830","s":"Ws","v":0.2},{"g":"AT2G16830","s":"Sf","v":0.2},{"g":"AT2G16830","s":"Zu","v":0.2},
{"g":"AT3G60965","s":"Col","v":0.5},{"g":"AT3G60965","s":"Ct","v":0.2},{"g":"AT3G60965","s":"Tsu","v":0.2},{"g":"AT3G60965","s":"Kn","v":0.2},{"g":"AT3G60965","s":"Wu","v":0.2},{"g":"AT3G60965","s":"Ler","v":0.2},{"g":"AT3G60965","s":"Bur","v":0.2},{"g":"AT3G60965","s":"Mt","v":0.2},{"g":"AT3G60965","s":"No","v":0.2},{"g":"AT3G60965","s":"Ni","v":0.2},{"g":"AT3G60965","s":"Rsc","v":0.2},{"g":"AT3G60965","s":"Can","v":0.2},{"g":"AT3G60965","s":"Oy","v":0.3},{"g":"AT3G60965","s":"Wil","v":0.2},{"g":"AT3G60965","s":"Po","v":0.2},{"g":"AT3G60965","s":"Edi","v":0.2},{"g":"AT3G60965","s":"Ws","v":0.2},{"g":"AT3G60965","s":"Sf","v":0.2},{"g":"AT3G60965","s":"Zu","v":0.2},
{"g":"AT5G28463","s":"Col","v":0.2},{"g":"AT5G28463","s":"Ct","v":0.6},{"g":"AT5G28463","s":"Tsu","v":0.2},{"g":"AT5G28463","s":"Kn","v":0.5},{"g":"AT5G28463","s":"Wu","v":0.2},{"g":"AT5G28463","s":"Ler","v":0.2},{"g":"AT5G28463","s":"Bur","v":0.2},{"g":"AT5G28463","s":"Mt","v":0.2},{"g":"AT5G28463","s":"No","v":0.3},{"g":"AT5G28463","s":"Ni","v":0.2},{"g":"AT5G28463","s":"Rsc","v":0.2},{"g":"AT5G28463","s":"Can","v":0.6},{"g":"AT5G28463","s":"Oy","v":0.2},{"g":"AT5G28463","s":"Wil","v":0.2},{"g":"AT5G28463","s":"Po","v":0.2},{"g":"AT5G28463","s":"Edi","v":0.2},{"g":"AT5G28463","s":"Ws","v":0.2},{"g":"AT5G28463","s":"Sf","v":0.2},{"g":"AT5G28463","s":"Zu","v":0.2},
{"g":"AT5G28615","s":"Col","v":0.2},{"g":"AT5G28615","s":"Ct","v":0.2},{"g":"AT5G28615","s":"Tsu","v":0.2},{"g":"AT5G28615","s":"Kn","v":0.2},{"g":"AT5G28615","s":"Wu","v":0.2},{"g":"AT5G28615","s":"Ler","v":0.2},{"g":"AT5G28615","s":"Bur","v":0.2},{"g":"AT5G28615","s":"Mt","v":0.2},{"g":"AT5G28615","s":"No","v":0.2},{"g":"AT5G28615","s":"Ni","v":0.2},{"g":"AT5G28615","s":"Rsc","v":0.2},{"g":"AT5G28615","s":"Can","v":0.2},{"g":"AT5G28615","s":"Oy","v":0.2},{"g":"AT5G28615","s":"Wil","v":0.2},{"g":"AT5G28615","s":"Po","v":0.2},{"g":"AT5G28615","s":"Edi","v":0.2},{"g":"AT5G28615","s":"Ws","v":0.2},{"g":"AT5G28615","s":"Sf","v":0.2},{"g":"AT5G28615","s":"Zu","v":0.2},
{"g":"AT1G66300","s":"Col","v":0.2},{"g":"AT1G66300","s":"Ct","v":0.2},{"g":"AT1G66300","s":"Tsu","v":0.2},{"g":"AT1G66300","s":"Kn","v":0.2},{"g":"AT1G66300","s":"Wu","v":0.2},{"g":"AT1G66300","s":"Ler","v":0.2},{"g":"AT1G66300","s":"Bur","v":0.2},{"g":"AT1G66300","s":"Mt","v":0.2},{"g":"AT1G66300","s":"No","v":0.2},{"g":"AT1G66300","s":"Ni","v":0.2},{"g":"AT1G66300","s":"Rsc","v":0.2},{"g":"AT1G66300","s":"Can","v":0.2},{"g":"AT1G66300","s":"Oy","v":0.2},{"g":"AT1G66300","s":"Wil","v":0.2},{"g":"AT1G66300","s":"Po","v":0.2},{"g":"AT1G66300","s":"Edi","v":0.2},{"g":"AT1G66300","s":"Ws","v":0.2},{"g":"AT1G66300","s":"Sf","v":0.2},{"g":"AT1G66300","s":"Zu","v":0.2},
{"g":"AT2G20910","s":"Col","v":0.2},{"g":"AT2G20910","s":"Ct","v":0.3},{"g":"AT2G20910","s":"Tsu","v":0.2},{"g":"AT2G20910","s":"Kn","v":0.2},{"g":"AT2G20910","s":"Wu","v":0.2},{"g":"AT2G20910","s":"Ler","v":7.8},{"g":"AT2G20910","s":"Bur","v":0.2},{"g":"AT2G20910","s":"Mt","v":0.2},{"g":"AT2G20910","s":"No","v":0.2},{"g":"AT2G20910","s":"Ni","v":1.6},{"g":"AT2G20910","s":"Rsc","v":0.2},{"g":"AT2G20910","s":"Can","v":0.5},{"g":"AT2G20910","s":"Oy","v":0.2},{"g":"AT2G20910","s":"Wil","v":0.2},{"g":"AT2G20910","s":"Po","v":1.5},{"g":"AT2G20910","s":"Edi","v":0.2},{"g":"AT2G20910","s":"Ws","v":0.2},{"g":"AT2G20910","s":"Sf","v":0.2},{"g":"AT2G20910","s":"Zu","v":0.2},
{"g":"AT5G35810","s":"Col","v":0.2},{"g":"AT5G35810","s":"Ct","v":0.2},{"g":"AT5G35810","s":"Tsu","v":0.2},{"g":"AT5G35810","s":"Kn","v":0.2},{"g":"AT5G35810","s":"Wu","v":0.2},{"g":"AT5G35810","s":"Ler","v":0.2},{"g":"AT5G35810","s":"Bur","v":0.2},{"g":"AT5G35810","s":"Mt","v":0.2},{"g":"AT5G35810","s":"No","v":0.2},{"g":"AT5G35810","s":"Ni","v":0.2},{"g":"AT5G35810","s":"Rsc","v":0.2},{"g":"AT5G35810","s":"Can","v":0.2},{"g":"AT5G35810","s":"Oy","v":0.2},{"g":"AT5G35810","s":"Wil","v":0.2},{"g":"AT5G35810","s":"Po","v":0.2},{"g":"AT5G35810","s":"Edi","v":0.2},{"g":"AT5G35810","s":"Ws","v":0.2},{"g":"AT5G35810","s":"Sf","v":0.2},{"g":"AT5G35810","s":"Zu","v":0.2},
{"g":"AT1G65170","s":"Col","v":0.2},{"g":"AT1G65170","s":"Ct","v":0.2},{"g":"AT1G65170","s":"Tsu","v":0.2},{"g":"AT1G65170","s":"Kn","v":0.2},{"g":"AT1G65170","s":"Wu","v":0.2},{"g":"AT1G65170","s":"Ler","v":0.2},{"g":"AT1G65170","s":"Bur","v":0.2},{"g":"AT1G65170","s":"Mt","v":0.2},{"g":"AT1G65170","s":"No","v":0.2},{"g":"AT1G65170","s":"Ni","v":0.2},{"g":"AT1G65170","s":"Rsc","v":0.2},{"g":"AT1G65170","s":"Can","v":0.2},{"g":"AT1G65170","s":"Oy","v":0.2},{"g":"AT1G65170","s":"Wil","v":0.2},{"g":"AT1G65170","s":"Po","v":0.2},{"g":"AT1G65170","s":"Edi","v":0.2},{"g":"AT1G65170","s":"Ws","v":0.2},{"g":"AT1G65170","s":"Sf","v":0.2},{"g":"AT1G65170","s":"Zu","v":0.2},
{"g":"AT5G56920","s":"Col","v":0.2},{"g":"AT5G56920","s":"Ct","v":0.2},{"g":"AT5G56920","s":"Tsu","v":0.2},{"g":"AT5G56920","s":"Kn","v":0.2},{"g":"AT5G56920","s":"Wu","v":0.2},{"g":"AT5G56920","s":"Ler","v":0.2},{"g":"AT5G56920","s":"Bur","v":0.2},{"g":"AT5G56920","s":"Mt","v":0.2},{"g":"AT5G56920","s":"No","v":0.2},{"g":"AT5G56920","s":"Ni","v":0.2},{"g":"AT5G56920","s":"Rsc","v":0.2},{"g":"AT5G56920","s":"Can","v":0.2},{"g":"AT5G56920","s":"Oy","v":0.2},{"g":"AT5G56920","s":"Wil","v":0.2},{"g":"AT5G56920","s":"Po","v":0.2},{"g":"AT5G56920","s":"Edi","v":0.2},{"g":"AT5G56920","s":"Ws","v":0.2},{"g":"AT5G56920","s":"Sf","v":0.2},{"g":"AT5G56920","s":"Zu","v":0.2}
],
"C":[
{"st":"seedlings day 7","c":"At1g35400 Col","v":0.1},{"st":"seedlings day 7","c":"At1g35400 Ler","v":0.1},{"st":"seedlings day 7","c":"At5g35810 Col","v":0.1},{"st":"seedlings day 7","c":"At5g35810 Ler","v":0.1},{"st":"seedlings day 7","c":"At5g42640 Col","v":0.1},{"st":"seedlings day 7","c":"At5g42640 Ler","v":0.1},{"st":"seedlings day 7","c":"At5g28615 Col","v":0.1},{"st":"seedlings day 7","c":"At5g28615 Ler","v":0.1},{"st":"seedlings day 7","c":"At3g60150 Col","v":1.0},{"st":"seedlings day 7","c":"At3g60150 Ler","v":0.1},{"st":"seedlings day 7","c":"At2g34840 Col","v":0.1},{"st":"seedlings day 7","c":"At2g34840 Ler","v":0.1},{"st":"seedlings day 7","c":"At1g30835 Col","v":0.45},{"st":"seedlings day 7","c":"At1g30835 Ler","v":0.1},{"st":"seedlings day 7","c":"At5g56910 Col","v":0.45},{"st":"seedlings day 7","c":"At5g56910 Ler","v":0.1},{"st":"seedlings day 7","c":"At4g20480 Col","v":3.2},{"st":"seedlings day 7","c":"At4g20480 Ler","v":0.1},
{"st":"seedlings day 11","c":"At1g35400 Col","v":0.1},{"st":"seedlings day 11","c":"At1g35400 Ler","v":0.1},{"st":"seedlings day 11","c":"At5g35810 Col","v":0.1},{"st":"seedlings day 11","c":"At5g35810 Ler","v":0.1},{"st":"seedlings day 11","c":"At5g42640 Col","v":0.1},{"st":"seedlings day 11","c":"At5g42640 Ler","v":0.1},{"st":"seedlings day 11","c":"At5g28615 Col","v":0.1},{"st":"seedlings day 11","c":"At5g28615 Ler","v":0.1},{"st":"seedlings day 11","c":"At3g60150 Col","v":1.0},{"st":"seedlings day 11","c":"At3g60150 Ler","v":0.1},{"st":"seedlings day 11","c":"At2g34840 Col","v":0.1},{"st":"seedlings day 11","c":"At2g34840 Ler","v":0.1},{"st":"seedlings day 11","c":"At1g30835 Col","v":0.45},{"st":"seedlings day 11","c":"At1g30835 Ler","v":0.1},{"st":"seedlings day 11","c":"At5g56910 Col","v":1.0},{"st":"seedlings day 11","c":"At5g56910 Ler","v":0.45},{"st":"seedlings day 11","c":"At4g20480 Col","v":3.2},{"st":"seedlings day 11","c":"At4g20480 Ler","v":0.45},
{"st":"seedlings day 13","c":"At1g35400 Col","v":0.1},{"st":"seedlings day 13","c":"At1g35400 Ler","v":0.1},{"st":"seedlings day 13","c":"At5g35810 Col","v":0.1},{"st":"seedlings day 13","c":"At5g35810 Ler","v":0.1},{"st":"seedlings day 13","c":"At5g42640 Col","v":0.1},{"st":"seedlings day 13","c":"At5g42640 Ler","v":0.1},{"st":"seedlings day 13","c":"At5g28615 Col","v":0.1},{"st":"seedlings day 13","c":"At5g28615 Ler","v":0.1},{"st":"seedlings day 13","c":"At3g60150 Col","v":0.45},{"st":"seedlings day 13","c":"At3g60150 Ler","v":0.45},{"st":"seedlings day 13","c":"At2g34840 Col","v":0.45},{"st":"seedlings day 13","c":"At2g34840 Ler","v":0.1},{"st":"seedlings day 13","c":"At1g30835 Col","v":1.0},{"st":"seedlings day 13","c":"At1g30835 Ler","v":0.1},{"st":"seedlings day 13","c":"At5g56910 Col","v":1.0},{"st":"seedlings day 13","c":"At5g56910 Ler","v":0.45},{"st":"seedlings day 13","c":"At4g20480 Col","v":3.2},{"st":"seedlings day 13","c":"At4g20480 Ler","v":0.45},
{"st":"seedlings day 20","c":"At1g35400 Col","v":0.1},{"st":"seedlings day 20","c":"At1g35400 Ler","v":0.1},{"st":"seedlings day 20","c":"At5g35810 Col","v":0.1},{"st":"seedlings day 20","c":"At5g35810 Ler","v":0.1},{"st":"seedlings day 20","c":"At5g42640 Col","v":0.1},{"st":"seedlings day 20","c":"At5g42640 Ler","v":0.1},{"st":"seedlings day 20","c":"At5g28615 Col","v":0.1},{"st":"seedlings day 20","c":"At5g28615 Ler","v":0.1},{"st":"seedlings day 20","c":"At3g60150 Col","v":0.45},{"st":"seedlings day 20","c":"At3g60150 Ler","v":0.1},{"st":"seedlings day 20","c":"At2g34840 Col","v":0.1},{"st":"seedlings day 20","c":"At2g34840 Ler","v":0.1},{"st":"seedlings day 20","c":"At1g30835 Col","v":0.1},{"st":"seedlings day 20","c":"At1g30835 Ler","v":0.1},{"st":"seedlings day 20","c":"At5g56910 Col","v":0.45},{"st":"seedlings day 20","c":"At5g56910 Ler","v":0.1},{"st":"seedlings day 20","c":"At4g20480 Col","v":1.6},{"st":"seedlings day 20","c":"At4g20480 Ler","v":0.45},
{"st":"rosette leaves day 27","c":"At1g35400 Col","v":0.1},{"st":"rosette leaves day 27","c":"At1g35400 Ler","v":0.1},{"st":"rosette leaves day 27","c":"At5g35810 Col","v":0.1},{"st":"rosette leaves day 27","c":"At5g35810 Ler","v":0.1},{"st":"rosette leaves day 27","c":"At5g42640 Col","v":0.1},{"st":"rosette leaves day 27","c":"At5g42640 Ler","v":0.1},{"st":"rosette leaves day 27","c":"At5g28615 Col","v":0.1},{"st":"rosette leaves day 27","c":"At5g28615 Ler","v":0.1},{"st":"rosette leaves day 27","c":"At3g60150 Col","v":0.45},{"st":"rosette leaves day 27","c":"At3g60150 Ler","v":0.45},{"st":"rosette leaves day 27","c":"At2g34840 Col","v":0.1},{"st":"rosette leaves day 27","c":"At2g34840 Ler","v":0.1},{"st":"rosette leaves day 27","c":"At1g30835 Col","v":0.45},{"st":"rosette leaves day 27","c":"At1g30835 Ler","v":0.1},{"st":"rosette leaves day 27","c":"At5g56910 Col","v":0.45},{"st":"rosette leaves day 27","c":"At5g56910 Ler","v":1.6},{"st":"rosette leaves day 27","c":"At4g20480 Col","v":1.6},{"st":"rosette leaves day 27","c":"At4g20480 Ler","v":0.1},
{"st":"rosette leaves day 34","c":"At1g35400 Col","v":0.1},{"st":"rosette leaves day 34","c":"At1g35400 Ler","v":0.1},{"st":"rosette leaves day 34","c":"At5g35810 Col","v":0.1},{"st":"rosette leaves day 34","c":"At5g35810 Ler","v":0.1},{"st":"rosette leaves day 34","c":"At5g42640 Col","v":0.1},{"st":"rosette leaves day 34","c":"At5g42640 Ler","v":0.1},{"st":"rosette leaves day 34","c":"At5g28615 Col","v":0.1},{"st":"rosette leaves day 34","c":"At5g28615 Ler","v":0.1},{"st":"rosette leaves day 34","c":"At3g60150 Col","v":0.1},{"st":"rosette leaves day 34","c":"At3g60150 Ler","v":null},{"st":"rosette leaves day 34","c":"At2g34840 Col","v":0.45},{"st":"rosette leaves day 34","c":"At2g34840 Ler","v":0.1},{"st":"rosette leaves day 34","c":"At1g30835 Col","v":0.1},{"st":"rosette leaves day 34","c":"At1g30835 Ler","v":0.1},{"st":"rosette leaves day 34","c":"At5g56910 Col","v":0.45},{"st":"rosette leaves day 34","c":"At5g56910 Ler","v":0.1},{"st":"rosette leaves day 34","c":"At4g20480 Col","v":3.2},{"st":"rosette leaves day 34","c":"At4g20480 Ler","v":0.1},
{"st":"stems day 27","c":"At1g35400 Col","v":0.1},{"st":"stems day 27","c":"At1g35400 Ler","v":0.1},{"st":"stems day 27","c":"At5g35810 Col","v":0.1},{"st":"stems day 27","c":"At5g35810 Ler","v":0.1},{"st":"stems day 27","c":"At5g42640 Col","v":0.1},{"st":"stems day 27","c":"At5g42640 Ler","v":0.1},{"st":"stems day 27","c":"At5g28615 Col","v":0.1},{"st":"stems day 27","c":"At5g28615 Ler","v":0.1},{"st":"stems day 27","c":"At3g60150 Col","v":0.45},{"st":"stems day 27","c":"At3g60150 Ler","v":1.0},{"st":"stems day 27","c":"At2g34840 Col","v":0.45},{"st":"stems day 27","c":"At2g34840 Ler","v":0.1},{"st":"stems day 27","c":"At1g30835 Col","v":1.6},{"st":"stems day 27","c":"At1g30835 Ler","v":0.45},{"st":"stems day 27","c":"At5g56910 Col","v":1.0},{"st":"stems day 27","c":"At5g56910 Ler","v":1.6},{"st":"stems day 27","c":"At4g20480 Col","v":3.2},{"st":"stems day 27","c":"At4g20480 Ler","v":1.0},
{"st":"stems day 34","c":"At1g35400 Col","v":0.1},{"st":"stems day 34","c":"At1g35400 Ler","v":0.1},{"st":"stems day 34","c":"At5g35810 Col","v":0.1},{"st":"stems day 34","c":"At5g35810 Ler","v":0.1},{"st":"stems day 34","c":"At5g42640 Col","v":0.1},{"st":"stems day 34","c":"At5g42640 Ler","v":0.1},{"st":"stems day 34","c":"At5g28615 Col","v":0.1},{"st":"stems day 34","c":"At5g28615 Ler","v":0.1},{"st":"stems day 34","c":"At3g60150 Col","v":1.0},{"st":"stems day 34","c":"At3g60150 Ler","v":1.0},{"st":"stems day 34","c":"At2g34840 Col","v":0.45},{"st":"stems day 34","c":"At2g34840 Ler","v":0.1},{"st":"stems day 34","c":"At1g30835 Col","v":0.45},{"st":"stems day 34","c":"At1g30835 Ler","v":0.1},{"st":"stems day 34","c":"At5g56910 Col","v":0.45},{"st":"stems day 34","c":"At5g56910 Ler","v":0.1},{"st":"stems day 34","c":"At4g20480 Col","v":3.2},{"st":"stems day 34","c":"At4g20480 Ler","v":0.1},
{"st":"cauline leaves day 27","c":"At1g35400 Col","v":0.1},{"st":"cauline leaves day 27","c":"At1g35400 Ler","v":0.1},{"st":"cauline leaves day 27","c":"At5g35810 Col","v":0.1},{"st":"cauline leaves day 27","c":"At5g35810 Ler","v":0.1},{"st":"cauline leaves day 27","c":"At5g42640 Col","v":0.1},{"st":"cauline leaves day 27","c":"At5g42640 Ler","v":0.1},{"st":"cauline leaves day 27","c":"At5g28615 Col","v":0.1},{"st":"cauline leaves day 27","c":"At5g28615 Ler","v":0.1},{"st":"cauline leaves day 27","c":"At3g60150 Col","v":0.45},{"st":"cauline leaves day 27","c":"At3g60150 Ler","v":0.1},{"st":"cauline leaves day 27","c":"At2g34840 Col","v":0.45},{"st":"cauline leaves day 27","c":"At2g34840 Ler","v":0.1},{"st":"cauline leaves day 27","c":"At1g30835 Col","v":0.45},{"st":"cauline leaves day 27","c":"At1g30835 Ler","v":0.1},{"st":"cauline leaves day 27","c":"At5g56910 Col","v":0.45},{"st":"cauline leaves day 27","c":"At5g56910 Ler","v":3.2},{"st":"cauline leaves day 27","c":"At4g20480 Col","v":3.2},{"st":"cauline leaves day 27","c":"At4g20480 Ler","v":0.1},
{"st":"cauline leaves day 34","c":"At1g35400 Col","v":0.1},{"st":"cauline leaves day 34","c":"At1g35400 Ler","v":0.1},{"st":"cauline leaves day 34","c":"At5g35810 Col","v":0.1},{"st":"cauline leaves day 34","c":"At5g35810 Ler","v":0.1},{"st":"cauline leaves day 34","c":"At5g42640 Col","v":0.1},{"st":"cauline leaves day 34","c":"At5g42640 Ler","v":0.1},{"st":"cauline leaves day 34","c":"At5g28615 Col","v":null},{"st":"cauline leaves day 34","c":"At5g28615 Ler","v":null},{"st":"cauline leaves day 34","c":"At3g60150 Col","v":0.1},{"st":"cauline leaves day 34","c":"At3g60150 Ler","v":0.1},{"st":"cauline leaves day 34","c":"At2g34840 Col","v":0.1},{"st":"cauline leaves day 34","c":"At2g34840 Ler","v":0.1},{"st":"cauline leaves day 34","c":"At1g30835 Col","v":0.1},{"st":"cauline leaves day 34","c":"At1g30835 Ler","v":0.1},{"st":"cauline leaves day 34","c":"At5g56910 Col","v":0.1},{"st":"cauline leaves day 34","c":"At5g56910 Ler","v":0.1},{"st":"cauline leaves day 34","c":"At4g20480 Col","v":0.1},{"st":"cauline leaves day 34","c":"At4g20480 Ler","v":0.1},
{"st":"flowers day 22","c":"At1g35400 Col","v":0.1},{"st":"flowers day 22","c":"At1g35400 Ler","v":0.1},{"st":"flowers day 22","c":"At5g35810 Col","v":0.1},{"st":"flowers day 22","c":"At5g35810 Ler","v":0.1},{"st":"flowers day 22","c":"At5g42640 Col","v":0.45},{"st":"flowers day 22","c":"At5g42640 Ler","v":0.45},{"st":"flowers day 22","c":"At5g28615 Col","v":0.45},{"st":"flowers day 22","c":"At5g28615 Ler","v":1.0},{"st":"flowers day 22","c":"At3g60150 Col","v":0.1},{"st":"flowers day 22","c":"At3g60150 Ler","v":0.45},{"st":"flowers day 22","c":"At2g34840 Col","v":0.1},{"st":"flowers day 22","c":"At2g34840 Ler","v":0.1},{"st":"flowers day 22","c":"At1g30835 Col","v":null},{"st":"flowers day 22","c":"At1g30835 Ler","v":null},{"st":"flowers day 22","c":"At5g56910 Col","v":0.1},{"st":"flowers day 22","c":"At5g56910 Ler","v":0.1},{"st":"flowers day 22","c":"At4g20480 Col","v":1.6},{"st":"flowers day 22","c":"At4g20480 Ler","v":0.1},
{"st":"flowers day 34","c":"At1g35400 Col","v":0.1},{"st":"flowers day 34","c":"At1g35400 Ler","v":0.1},{"st":"flowers day 34","c":"At5g35810 Col","v":0.1},{"st":"flowers day 34","c":"At5g35810 Ler","v":0.1},{"st":"flowers day 34","c":"At5g42640 Col","v":0.1},{"st":"flowers day 34","c":"At5g42640 Ler","v":null},{"st":"flowers day 34","c":"At5g28615 Col","v":0.1},{"st":"flowers day 34","c":"At5g28615 Ler","v":0.1},{"st":"flowers day 34","c":"At3g60150 Col","v":0.1},{"st":"flowers day 34","c":"At3g60150 Ler","v":0.1},{"st":"flowers day 34","c":"At2g34840 Col","v":0.1},{"st":"flowers day 34","c":"At2g34840 Ler","v":0.1},{"st":"flowers day 34","c":"At1g30835 Col","v":0.1},{"st":"flowers day 34","c":"At1g30835 Ler","v":0.1},{"st":"flowers day 34","c":"At5g56910 Col","v":0.1},{"st":"flowers day 34","c":"At5g56910 Ler","v":0.45},{"st":"flowers day 34","c":"At4g20480 Col","v":0.45},{"st":"flowers day 34","c":"At4g20480 Ler","v":0.1},
{"st":"apices day 34","c":"At1g35400 Col","v":0.1},{"st":"apices day 34","c":"At1g35400 Ler","v":0.1},{"st":"apices day 34","c":"At5g35810 Col","v":0.1},{"st":"apices day 34","c":"At5g35810 Ler","v":0.1},{"st":"apices day 34","c":"At5g42640 Col","v":0.1},{"st":"apices day 34","c":"At5g42640 Ler","v":0.1},{"st":"apices day 34","c":"At5g28615 Col","v":null},{"st":"apices day 34","c":"At5g28615 Ler","v":0.1},{"st":"apices day 34","c":"At3g60150 Col","v":0.45},{"st":"apices day 34","c":"At3g60150 Ler","v":0.45},{"st":"apices day 34","c":"At2g34840 Col","v":0.45},{"st":"apices day 34","c":"At2g34840 Ler","v":0.1},{"st":"apices day 34","c":"At1g30835 Col","v":1.0},{"st":"apices day 34","c":"At1g30835 Ler","v":0.1},{"st":"apices day 34","c":"At5g56910 Col","v":1.6},{"st":"apices day 34","c":"At5g56910 Ler","v":0.1},{"st":"apices day 34","c":"At4g20480 Col","v":3.2},{"st":"apices day 34","c":"At4g20480 Ler","v":0.1},
{"st":"siliques day 34","c":"At1g35400 Col","v":0.1},{"st":"siliques day 34","c":"At1g35400 Ler","v":0.1},{"st":"siliques day 34","c":"At5g35810 Col","v":0.1},{"st":"siliques day 34","c":"At5g35810 Ler","v":0.1},{"st":"siliques day 34","c":"At5g42640 Col","v":null},{"st":"siliques day 34","c":"At5g42640 Ler","v":0.1},{"st":"siliques day 34","c":"At5g28615 Col","v":0.1},{"st":"siliques day 34","c":"At5g28615 Ler","v":0.1},{"st":"siliques day 34","c":"At3g60150 Col","v":0.1},{"st":"siliques day 34","c":"At3g60150 Ler","v":0.1},{"st":"siliques day 34","c":"At2g34840 Col","v":0.1},{"st":"siliques day 34","c":"At2g34840 Ler","v":0.1},{"st":"siliques day 34","c":"At1g30835 Col","v":0.1},{"st":"siliques day 34","c":"At1g30835 Ler","v":0.1},{"st":"siliques day 34","c":"At5g56910 Col","v":0.45},{"st":"siliques day 34","c":"At5g56910 Ler","v":0.1},{"st":"siliques day 34","c":"At4g20480 Col","v":1.6},{"st":"siliques day 34","c":"At4g20480 Ler","v":0.1}
]
},
"layer":[
{"data":{"values":[{"lo":-4,"hi":4}]},
 "mark":{"type":"rect","fill":{"gradient":"linear","x1":0,"y1":0,"x2":1,"y2":0,"stops":[{"offset":0,"color":"#3cff1e"},{"offset":0.5,"color":"#f2ff1e"},{"offset":1,"color":"#ff1e1e"}]},"stroke":"#4a4a4a","strokeWidth":1},
 "encoding":{
  "x":{"field":"lo","type":"quantitative","scale":{"domain":[-4,4],"range":[157,460]},"axis":{"orient":"bottom","offset":-944,"values":[-4,0,4],"labelExpr":"datum.value == 0 ? '1:1' : (datum.value < 0 ? '-4.0' : '4.0')","labelFlush":true,"labelFontSize":15,"labelPadding":4,"title":null}},
  "x2":{"field":"hi"},
  "y":{"datum":0,"type":"quantitative","scale":{"domain":[0,1],"range":[37,61]},"axis":null},
  "y2":{"datum":1}}},
{"data":{"values":[{"m":0}]},
 "mark":{"type":"rule","color":"#505050","strokeWidth":1},
 "encoding":{
  "x":{"field":"m","type":"quantitative","scale":{"domain":[-4,4],"range":[157,460]},"axis":null},
  "y":{"datum":0,"type":"quantitative","scale":{"domain":[0,1],"range":[37,61]},"axis":null},
  "y2":{"datum":1}}},
{"data":{"values":[{"t":"Relative expression"}]},
 "mark":{"type":"text","fontSize":19,"align":"center","baseline":"alphabetic"},
 "encoding":{"text":{"field":"t"},
  "x":{"datum":0,"type":"quantitative","scale":{"domain":[-4,4],"range":[157,460]},"axis":null},
  "y":{"datum":-0.5,"type":"quantitative","scale":{"domain":[0,1],"range":[37,61]},"axis":null}}},
{"data":{"values":[{"t":"A"}]},
 "mark":{"type":"text","fontSize":24,"align":"center","baseline":"alphabetic"},
 "encoding":{"text":{"field":"t"},
  "x":{"datum":-5.95,"type":"quantitative","scale":{"domain":[-4,4],"range":[157,460]},"axis":null},
  "y":{"datum":-0.17,"type":"quantitative","scale":{"domain":[0,1],"range":[37,61]},"axis":null}}},
{"data":{"values":[{"lo":0,"hi":8}]},
 "mark":{"type":"rect","fill":{"gradient":"linear","x1":0,"y1":0,"x2":1,"y2":0,"stops":[{"offset":0,"color":"#e6ff1a"},{"offset":1,"color":"#ff1a1a"}]},"stroke":"#4a4a4a","strokeWidth":1},
 "encoding":{
  "x":{"field":"lo","type":"quantitative","scale":{"domain":[0,8],"range":[745,978]},"axis":{"orient":"bottom","offset":-942,"values":[0,8],"labelExpr":"datum.value == 0 ? '0' : '8.0'","labelFlush":true,"labelFontSize":15,"labelPadding":4,"title":null}},
  "x2":{"field":"hi"},
  "y":{"datum":0,"type":"quantitative","scale":{"domain":[0,1],"range":[42,63]},"axis":null},
  "y2":{"datum":1}}},
{"data":{"values":[{"t":"RPKM"}]},
 "mark":{"type":"text","fontSize":20,"align":"center","baseline":"alphabetic"},
 "encoding":{"text":{"field":"t"},
  "x":{"datum":4.2,"type":"quantitative","scale":{"domain":[0,8],"range":[745,978]},"axis":null},
  "y":{"datum":-0.29,"type":"quantitative","scale":{"domain":[0,1],"range":[42,63]},"axis":null}}},
{"data":{"values":[{"t":"B"}]},
 "mark":{"type":"text","fontSize":24,"align":"center","baseline":"alphabetic"},
 "encoding":{"text":{"field":"t"},
  "x":{"datum":-3.47,"type":"quantitative","scale":{"domain":[0,8],"range":[745,978]},"axis":null},
  "y":{"datum":-0.2,"type":"quantitative","scale":{"domain":[0,1],"range":[42,63]},"axis":null}}},
{"data":{"name":"A"},
 "mark":{"type":"rect","stroke":"black","strokeWidth":3},
 "encoding":{
  "x":{"field":"s","type":"nominal","scale":{"type":"band","domain":["Ro","Se7","Le10","Le35","St","Me7","Me21","Inf21","clv","Fl21","Fr21"],"range":[157,460],"paddingInner":0,"paddingOuter":0},"axis":{"orient":"bottom","offset":-444,"labelAngle":-60,"labelAlign":"right","labelBaseline":"middle","labelOffset":6,"labelPadding":6,"labelFontSize":17,"labelFontStyle":"italic","labelOverlap":false,"title":null}},
  "y":{"field":"g","type":"nominal","scale":{"type":"band","domain":["AT4G20480","AT2G34840","AT3G60150","AT1G30835","AT5G56910","AT2G01560","AT1G21870","AT2G36710","AT5G28610","AT1G54230","AT1G35400","AT1G57565","AT4G10870","AT5G02700","AT5G12910","AT5G35914","AT3G60560","AT4G26350","AT3G46160","AT4G09143","AT5G42640","AT1G35186","AT2G16830","AT3G60965","AT5G28463","AT5G28615","AT1G66300","AT2G20910","AT5G35810","AT1G65170","AT5G56920"],"range":[130,561],"paddingInner":0,"paddingOuter":0},"axis":null},
  "color":{"field":"v","type":"quantitative","scale":{"domain":[-4,0,4],"range":["#3cff1e","#f2ff1e","#ff1e1e"],"interpolate":"rgb"},"legend":null}}},
{"data":{"values":[{"x0":"Ro","x1":"Fr21","y0":"AT4G20480","y1":"AT5G56920"}]},
 "mark":{"type":"rect","fillOpacity":0,"stroke":"black","strokeWidth":2.5},
 "encoding":{
  "x":{"field":"x0","type":"nominal","bandPosition":0,"scale":{"type":"band","domain":["Ro","Se7","Le10","Le35","St","Me7","Me21","Inf21","clv","Fl21","Fr21"],"range":[157,460],"paddingInner":0,"paddingOuter":0},"axis":null},
  "x2":{"field":"x1","bandPosition":1},
  "y":{"field":"y0","type":"nominal","bandPosition":0,"scale":{"type":"band","domain":["AT4G20480","AT2G34840","AT3G60150","AT1G30835","AT5G56910","AT2G01560","AT1G21870","AT2G36710","AT5G28610","AT1G54230","AT1G35400","AT1G57565","AT4G10870","AT5G02700","AT5G12910","AT5G35914","AT3G60560","AT4G26350","AT3G46160","AT4G09143","AT5G42640","AT1G35186","AT2G16830","AT3G60965","AT5G28463","AT5G28615","AT1G66300","AT2G20910","AT5G35810","AT1G65170","AT5G56920"],"range":[130,561],"paddingInner":0,"paddingOuter":0},"axis":null},
  "y2":{"field":"y1","bandPosition":1}}},
{"data":{"values":[{"grp":"Exp_Col","from":"AT4G20480","to":"AT5G56910"},{"grp":"Rep_Col","from":"AT2G01560","to":"AT5G56920"}]},
 "mark":{"type":"rule","strokeWidth":2},
 "encoding":{
  "x":{"datum":1,"type":"quantitative","scale":{"domain":[0,1],"range":[141,147]},"axis":null},
  "y":{"field":"from","type":"nominal","bandPosition":0,"scale":{"type":"band","domain":["AT4G20480","AT2G34840","AT3G60150","AT1G30835","AT5G56910","AT2G01560","AT1G21870","AT2G36710","AT5G28610","AT1G54230","AT1G35400","AT1G57565","AT4G10870","AT5G02700","AT5G12910","AT5G35914","AT3G60560","AT4G26350","AT3G46160","AT4G09143","AT5G42640","AT1G35186","AT2G16830","AT3G60965","AT5G28463","AT5G28615","AT1G66300","AT2G20910","AT5G35810","AT1G65170","AT5G56920"],"range":[128,561],"paddingInner":0,"paddingOuter":0},"axis":null},
  "y2":{"field":"to","bandPosition":1},
  "color":{"field":"grp","type":"nominal","scale":{"domain":["Exp_Col","Rep_Col"],"range":["#d42a2a","#1a1a1a"]},"legend":null}}},
{"data":{"values":[{"grp":"Exp_Col","at":"AT3G60150"},{"grp":"Rep_Col","at":"AT4G10870"}]},
 "mark":{"type":"text","fontSize":16,"fontWeight":"bold","align":"right","baseline":"middle"},
 "encoding":{"text":{"field":"grp"},
  "x":{"datum":0,"type":"quantitative","scale":{"domain":[0,1],"range":[141,147]},"axis":null},
  "y":{"field":"at","type":"nominal","bandPosition":1,"scale":{"type":"band","domain":["AT4G20480","AT2G34840","AT3G60150","AT1G30835","AT5G56910","AT2G01560","AT1G21870","AT2G36710","AT5G28610","AT1G54230","AT1G35400","AT1G57565","AT4G10870","AT5G02700","AT5G12910","AT5G35914","AT3G60560","AT4G26350","AT3G46160","AT4G09143","AT5G42640","AT1G35186","AT2G16830","AT3G60965","AT5G28463","AT5G28615","AT1G66300","AT2G20910","AT5G35810","AT1G65170","AT5G56920"],"range":[133,564],"paddingInner":0,"paddingOuter":0},"axis":null}}},
{"data":{"name":"genes"},
 "mark":{"type":"text","fontSize":14,"align":"left","baseline":"middle"},
 "encoding":{"text":{"field":"g"},
  "x":{"datum":0,"type":"quantitative","scale":{"domain":[0,1],"range":[509,584]},"axis":null},
  "y":{"field":"g","type":"nominal","scale":{"type":"band","domain":["AT4G20480","AT2G34840","AT3G60150","AT1G30835","AT5G56910","AT2G01560","AT1G21870","AT2G36710","AT5G28610","AT1G54230","AT1G35400","AT1G57565","AT4G10870","AT5G02700","AT5G12910","AT5G35914","AT3G60560","AT4G26350","AT3G46160","AT4G09143","AT5G42640","AT1G35186","AT2G16830","AT3G60965","AT5G28463","AT5G28615","AT1G66300","AT2G20910","AT5G35810","AT1G65170","AT5G56920"],"range":[131,562],"paddingInner":0,"paddingOuter":0},"axis":null}}},
{"data":{"values":[{"from":"AT4G20480","to":"AT5G56910"}]},
 "mark":{"type":"rect","fillOpacity":0,"stroke":"#e03232","strokeWidth":2},
 "encoding":{
  "x":{"datum":0,"type":"quantitative","scale":{"domain":[0,1],"range":[506,584]},"axis":null},
  "x2":{"datum":1},
  "y":{"field":"from","type":"nominal","bandPosition":0,"scale":{"type":"band","domain":["AT4G20480","AT2G34840","AT3G60150","AT1G30835","AT5G56910","AT2G01560","AT1G21870","AT2G36710","AT5G28610","AT1G54230","AT1G35400","AT1G57565","AT4G10870","AT5G02700","AT5G12910","AT5G35914","AT3G60560","AT4G26350","AT3G46160","AT4G09143","AT5G42640","AT1G35186","AT2G16830","AT3G60965","AT5G28463","AT5G28615","AT1G66300","AT2G20910","AT5G35810","AT1G65170","AT5G56920"],"range":[129,560],"paddingInner":0,"paddingOuter":0},"axis":null},
  "y2":{"field":"to","bandPosition":1}}},
{"data":{"values":[{"g":"AT2G20910"}]},
 "mark":{"type":"point","shape":"M -1 -0.08 L 0.35 -0.08 L 0.35 -0.4 L 1 0 L 0.35 0.4 L 0.35 0.08 L -1 0.08 Z","filled":true,"color":"#3a22ee","opacity":1,"size":650},
 "encoding":{
  "x":{"datum":1.256,"type":"quantitative","scale":{"domain":[0,1],"range":[506,584]},"axis":null},
  "y":{"field":"g","type":"nominal","scale":{"type":"band","domain":["AT4G20480","AT2G34840","AT3G60150","AT1G30835","AT5G56910","AT2G01560","AT1G21870","AT2G36710","AT5G28610","AT1G54230","AT1G35400","AT1G57565","AT4G10870","AT5G02700","AT5G12910","AT5G35914","AT3G60560","AT4G26350","AT3G46160","AT4G09143","AT5G42640","AT1G35186","AT2G16830","AT3G60965","AT5G28463","AT5G28615","AT1G66300","AT2G20910","AT5G35810","AT1G65170","AT5G56920"],"range":[129,560],"paddingInner":0,"paddingOuter":0},"axis":null}}},
{"data":{"name":"B"},
 "transform":[{"filter":"datum.v == null"}],
 "mark":{"type":"rect","fill":"#939e9e","stroke":"black","strokeWidth":3},
 "encoding":{
  "x":{"field":"s","type":"nominal","scale":{"type":"band","domain":["Col","Ct","Tsu","Kn","Wu","Ler","Bur","Mt","No","Ni","Rsc","Can","Oy","Wil","Po","Edi","Ws","Sf","Zu"],"range":[640,1005],"paddingInner":0,"paddingOuter":0},"axis":null},
  "y":{"field":"g","type":"nominal","scale":{"type":"band","domain":["AT4G20480","AT2G34840","AT3G60150","AT1G30835","AT5G56910","AT2G01560","AT1G21870","AT2G36710","AT5G28610","AT1G54230","AT1G35400","AT1G57565","AT4G10870","AT5G02700","AT5G12910","AT5G35914","AT3G60560","AT4G26350","AT3G46160","AT4G09143","AT5G42640","AT1G35186","AT2G16830","AT3G60965","AT5G28463","AT5G28615","AT1G66300","AT2G20910","AT5G35810","AT1G65170","AT5G56920"],"range":[129,560],"paddingInner":0,"paddingOuter":0},"axis":null}}},
{"data":{"name":"B"},
 "transform":[{"filter":"isValid(datum.v)"}],
 "mark":{"type":"rect","stroke":"black","strokeWidth":3},
 "encoding":{
  "x":{"field":"s","type":"nominal","scale":{"type":"band","domain":["Col","Ct","Tsu","Kn","Wu","Ler","Bur","Mt","No","Ni","Rsc","Can","Oy","Wil","Po","Edi","Ws","Sf","Zu"],"range":[640,1005],"paddingInner":0,"paddingOuter":0},"axis":{"orient":"bottom","offset":-445,"labelAngle":-60,"labelAlign":"right","labelBaseline":"middle","labelOffset":5,"labelPadding":6,"labelFontSize":16,"labelFontStyle":"italic","labelOverlap":false,"title":null}},
  "y":{"field":"g","type":"nominal","scale":{"type":"band","domain":["AT4G20480","AT2G34840","AT3G60150","AT1G30835","AT5G56910","AT2G01560","AT1G21870","AT2G36710","AT5G28610","AT1G54230","AT1G35400","AT1G57565","AT4G10870","AT5G02700","AT5G12910","AT5G35914","AT3G60560","AT4G26350","AT3G46160","AT4G09143","AT5G42640","AT1G35186","AT2G16830","AT3G60965","AT5G28463","AT5G28615","AT1G66300","AT2G20910","AT5G35810","AT1G65170","AT5G56920"],"range":[129,560],"paddingInner":0,"paddingOuter":0},"axis":null},
  "color":{"field":"v","type":"quantitative","scale":{"domain":[0,8],"range":["#e6ff14","#ff1414"],"interpolate":"rgb"},"legend":null}}},
{"data":{"values":[{"x0":"Col","x1":"Zu","y0":"AT4G20480","y1":"AT5G56920"}]},
 "mark":{"type":"rect","fillOpacity":0,"stroke":"black","strokeWidth":2.5},
 "encoding":{
  "x":{"field":"x0","type":"nominal","bandPosition":0,"scale":{"type":"band","domain":["Col","Ct","Tsu","Kn","Wu","Ler","Bur","Mt","No","Ni","Rsc","Can","Oy","Wil","Po","Edi","Ws","Sf","Zu"],"range":[640,1005],"paddingInner":0,"paddingOuter":0},"axis":null},
  "x2":{"field":"x1","bandPosition":1},
  "y":{"field":"y0","type":"nominal","bandPosition":0,"scale":{"type":"band","domain":["AT4G20480","AT2G34840","AT3G60150","AT1G30835","AT5G56910","AT2G01560","AT1G21870","AT2G36710","AT5G28610","AT1G54230","AT1G35400","AT1G57565","AT4G10870","AT5G02700","AT5G12910","AT5G35914","AT3G60560","AT4G26350","AT3G46160","AT4G09143","AT5G42640","AT1G35186","AT2G16830","AT3G60965","AT5G28463","AT5G28615","AT1G66300","AT2G20910","AT5G35810","AT1G65170","AT5G56920"],"range":[129,560],"paddingInner":0,"paddingOuter":0},"axis":null},
  "y2":{"field":"y1","bandPosition":1}}},
{"data":{"values":[{"s":"Col"},{"s":"Ler"}]},
 "mark":{"type":"point","shape":"triangle-up","filled":true,"color":"#1a1aee","opacity":1,"size":90},
 "encoding":{
  "x":{"field":"s","type":"nominal","scale":{"type":"band","domain":["Col","Ct","Tsu","Kn","Wu","Ler","Bur","Mt","No","Ni","Rsc","Can","Oy","Wil","Po","Edi","Ws","Sf","Zu"],"range":[640,1005],"paddingInner":0,"paddingOuter":0},"axis":null},
  "y":{"datum":0,"type":"quantitative","scale":{"domain":[0,1],"range":[602,612]},"axis":null}}},
{"data":{"values":[{"b":"0","v":0},{"b":"0.3","v":0.3},{"b":"0.6","v":0.6},{"b":"0.9","v":0.9},{"b":"1.2","v":1.2},{"b":"1.5","v":1.5},{"b":"1.8","v":1.8},{"b":"2.1","v":2.1},{"b":"2.4","v":2.4},{"b":"2.7","v":2.7},{"b":">3","v":3}]},
 "mark":{"type":"rect","stroke":"black","strokeWidth":2.5},
 "encoding":{
  "x":{"field":"b","type":"nominal","scale":{"type":"band","domain":["0","0.3","0.6","0.9","1.2","1.5","1.8","2.1","2.4","2.7",">3"],"range":[137,522],"paddingInner":0,"paddingOuter":0},"axis":{"orient":"top","offset":-681,"labelAngle":0,"labelPadding":8,"labelFontSize":15,"labelOverlap":false,"title":null}},
  "y":{"datum":0,"type":"quantitative","scale":{"domain":[0,1],"range":[682,703]},"axis":null},
  "y2":{"datum":1},
  "color":{"field":"v","type":"quantitative","scale":{"type":"threshold","domain":[0.3,0.6,0.9,1.2,1.5,1.8,2.1,2.4,2.7,3],"range":["#f7f71b","#fbc41b","#fcc81d","#f5961e","#f5981f","#f46a1c","#f4701d","#f4701d","#fc1b1b","#fc1b1b","#fc1b1b"]},"legend":null}}},
{"data":{"values":[{"t":"relative expression"}]},
 "mark":{"type":"text","fontSize":20,"align":"left","baseline":"middle"},
 "encoding":{"text":{"field":"t"},
  "x":{"datum":11.857,"type":"quantitative","scale":{"domain":[0,11],"range":[137,522]},"axis":null},
  "y":{"datum":0.38,"type":"quantitative","scale":{"domain":[0,1],"range":[682,703]},"axis":null}}},
{"data":{"values":[{"t":"C"}]},
 "mark":{"type":"text","fontSize":24,"align":"center","baseline":"alphabetic"},
 "encoding":{"text":{"field":"t"},
  "x":{"datum":-1.486,"type":"quantitative","scale":{"domain":[0,11],"range":[137,522]},"axis":null},
  "y":{"datum":0.14,"type":"quantitative","scale":{"domain":[0,1],"range":[682,703]},"axis":null}}},
{"data":{"name":"C"},
 "transform":[{"filter":"datum.v == null"}],
 "mark":{"type":"rect","fill":"#97a6ac","stroke":"black","strokeWidth":2.5},
 "encoding":{
  "x":{"field":"c","type":"nominal","scale":{"type":"band","domain":["At1g35400 Col","At1g35400 Ler","At5g35810 Col","At5g35810 Ler","At5g42640 Col","At5g42640 Ler","At5g28615 Col","At5g28615 Ler","At3g60150 Col","At3g60150 Ler","At2g34840 Col","At2g34840 Ler","At1g30835 Col","At1g30835 Ler","At5g56910 Col","At5g56910 Ler","At4g20480 Col","At4g20480 Ler"],"range":[137,762],"paddingInner":0,"paddingOuter":0},"axis":null},
  "y":{"field":"st","type":"nominal","scale":{"type":"band","domain":["seedlings day 7","seedlings day 11","seedlings day 13","seedlings day 20","rosette leaves day 27","rosette leaves day 34","stems day 27","stems day 34","cauline leaves day 27","cauline leaves day 34","flowers day 22","flowers day 34","apices day 34","siliques day 34"],"range":[746,968],"paddingInner":0,"paddingOuter":0},"axis":null}}},
{"data":{"name":"C"},
 "transform":[{"filter":"isValid(datum.v)"}],
 "mark":{"type":"rect","stroke":"black","strokeWidth":2.5},
 "encoding":{
  "x":{"field":"c","type":"nominal","scale":{"type":"band","domain":["At1g35400 Col","At1g35400 Ler","At5g35810 Col","At5g35810 Ler","At5g42640 Col","At5g42640 Ler","At5g28615 Col","At5g28615 Ler","At3g60150 Col","At3g60150 Ler","At2g34840 Col","At2g34840 Ler","At1g30835 Col","At1g30835 Ler","At5g56910 Col","At5g56910 Ler","At4g20480 Col","At4g20480 Ler"],"range":[137,762],"paddingInner":0,"paddingOuter":0},"axis":{"orient":"top","offset":-746,"labelAngle":0,"labelExpr":"split(datum.value, ' ')[1]","labelPadding":2,"labelFontSize":15,"labelOverlap":false,"title":null}},
  "y":{"field":"st","type":"nominal","scale":{"type":"band","domain":["seedlings day 7","seedlings day 11","seedlings day 13","seedlings day 20","rosette leaves day 27","rosette leaves day 34","stems day 27","stems day 34","cauline leaves day 27","cauline leaves day 34","flowers day 22","flowers day 34","apices day 34","siliques day 34"],"range":[746,968],"paddingInner":0,"paddingOuter":0},"axis":null},
  "color":{"field":"v","type":"quantitative","scale":{"type":"threshold","domain":[0.3,0.6,0.9,1.2,1.5,1.8,2.1,2.4,2.7,3],"range":["#f7f71b","#fbc41b","#fcc81d","#f5961e","#f5981f","#f46a1c","#f4701d","#f4701d","#fc1b1b","#fc1b1b","#fc1b1b"]},"legend":null}}},
{"data":{"values":[{"x0":"At1g35400 Col","x1":"At4g20480 Ler","y0":"seedlings day 7","y1":"siliques day 34"}]},
 "mark":{"type":"rect","fillOpacity":0,"stroke":"black","strokeWidth":2},
 "encoding":{
  "x":{"field":"x0","type":"nominal","bandPosition":0,"scale":{"type":"band","domain":["At1g35400 Col","At1g35400 Ler","At5g35810 Col","At5g35810 Ler","At5g42640 Col","At5g42640 Ler","At5g28615 Col","At5g28615 Ler","At3g60150 Col","At3g60150 Ler","At2g34840 Col","At2g34840 Ler","At1g30835 Col","At1g30835 Ler","At5g56910 Col","At5g56910 Ler","At4g20480 Col","At4g20480 Ler"],"range":[137,762],"paddingInner":0,"paddingOuter":0},"axis":null},
  "x2":{"field":"x1","bandPosition":1},
  "y":{"field":"y0","type":"nominal","bandPosition":0,"scale":{"type":"band","domain":["seedlings day 7","seedlings day 11","seedlings day 13","seedlings day 20","rosette leaves day 27","rosette leaves day 34","stems day 27","stems day 34","cauline leaves day 27","cauline leaves day 34","flowers day 22","flowers day 34","apices day 34","siliques day 34"],"range":[746,968],"paddingInner":0,"paddingOuter":0},"axis":null},
  "y2":{"field":"y1","bandPosition":1}}},
{"data":{"values":[{"gene":"At1g35400"},{"gene":"At5g35810"},{"gene":"At5g42640"},{"gene":"At5g28615"},{"gene":"At3g60150"},{"gene":"At2g34840"},{"gene":"At1g30835"},{"gene":"At5g56910"},{"gene":"At4g20480"}]},
 "mark":{"type":"text","fontSize":12.5,"align":"center","baseline":"alphabetic"},
 "encoding":{"text":{"field":"gene"},
  "x":{"field":"gene","type":"nominal","scale":{"type":"band","domain":["At1g35400","At5g35810","At5g42640","At5g28615","At3g60150","At2g34840","At1g30835","At5g56910","At4g20480"],"range":[137,762],"paddingInner":0,"paddingOuter":0},"axis":null},
  "y":{"datum":0,"type":"quantitative","scale":{"domain":[0,1],"range":[726,736]},"axis":null}}},
{"data":{"values":[{"row":"Tissues and stages","label":"Tissues and stages"},{"row":"seedlings day 7","label":"day 7"},{"row":"seedlings day 11","label":"day 11"},{"row":"seedlings day 13","label":"day 13"},{"row":"seedlings day 20","label":"day 20"},{"row":"rosette leaves day 27","label":"day 27"},{"row":"rosette leaves day 34","label":"day 34"},{"row":"stems day 27","label":"day 27"},{"row":"stems day 34","label":"day 34"},{"row":"cauline leaves day 27","label":"day 27"},{"row":"cauline leaves day 34","label":"day 34"},{"row":"flowers day 22","label":"day 22"},{"row":"flowers day 34","label":"day 34"},{"row":"apices day 34","label":"day 34"},{"row":"siliques day 34","label":"day 34"}]},
 "mark":{"type":"text","fontSize":15,"align":"left","baseline":"middle"},
 "encoding":{"text":{"field":"label"},
  "x":{"datum":0,"type":"quantitative","scale":{"domain":[0,1],"range":[785,848]},"axis":null},
  "y":{"field":"row","type":"nominal","scale":{"type":"band","domain":["Tissues and stages","seedlings day 7","seedlings day 11","seedlings day 13","seedlings day 20","rosette leaves day 27","rosette leaves day 34","stems day 27","stems day 34","cauline leaves day 27","cauline leaves day 34","flowers day 22","flowers day 34","apices day 34","siliques day 34"],"range":[727,965],"paddingInner":0,"paddingOuter":0},"axis":null}}},
{"data":{"values":[{"t":"seedlings","at":"seedlings day 11"},{"t":"rosette leaves","at":"rosette leaves day 27"},{"t":"stems","at":"stems day 27"},{"t":"cauline leaves","at":"cauline leaves day 27"},{"t":"flowers","at":"flowers day 22"}]},
 "mark":{"type":"text","fontSize":16,"align":"left","baseline":"middle"},
 "encoding":{"text":{"field":"t"},
  "x":{"datum":1,"type":"quantitative","scale":{"domain":[0,1],"range":[785,848]},"axis":null},
  "y":{"field":"at","type":"nominal","bandPosition":1,"scale":{"type":"band","domain":["Tissues and stages","seedlings day 7","seedlings day 11","seedlings day 13","seedlings day 20","rosette leaves day 27","rosette leaves day 34","stems day 27","stems day 34","cauline leaves day 27","cauline leaves day 34","flowers day 22","flowers day 34","apices day 34","siliques day 34"],"range":[727,965],"paddingInner":0,"paddingOuter":0},"axis":null}}},
{"data":{"values":[{"t":"apices","at":"apices day 34"},{"t":"siliques","at":"siliques day 34"}]},
 "mark":{"type":"text","fontSize":15,"align":"left","baseline":"middle"},
 "encoding":{"text":{"field":"t"},
  "x":{"datum":1,"type":"quantitative","scale":{"domain":[0,1],"range":[785,848]},"axis":null},
  "y":{"field":"at","type":"nominal","scale":{"type":"band","domain":["Tissues and stages","seedlings day 7","seedlings day 11","seedlings day 13","seedlings day 20","rosette leaves day 27","rosette leaves day 34","stems day 27","stems day 34","cauline leaves day 27","cauline leaves day 34","flowers day 22","flowers day 34","apices day 34","siliques day 34"],"range":[727,965],"paddingInner":0,"paddingOuter":0},"axis":null}}},
{"data":{"values":[{"row":"Tissues and stages"},{"row":"seedlings day 20"},{"row":"rosette leaves day 34"},{"row":"stems day 34"},{"row":"cauline leaves day 34"},{"row":"flowers day 34"},{"row":"apices day 34"},{"row":"siliques day 34"}]},
 "mark":{"type":"rule","color":"black","strokeWidth":1.5},
 "encoding":{
  "x":{"datum":0,"type":"quantitative","scale":{"domain":[0,1],"range":[785,950]},"axis":null},
  "x2":{"datum":1},
  "y":{"field":"row","type":"nominal","bandPosition":1,"scale":{"type":"band","domain":["Tissues and stages","seedlings day 7","seedlings day 11","seedlings day 13","seedlings day 20","rosette leaves day 27","rosette leaves day 34","stems day 27","stems day 34","cauline leaves day 27","cauline leaves day 34","flowers day 22","flowers day 34","apices day 34","siliques day 34"],"range":[727,965],"paddingInner":0,"paddingOuter":0},"axis":null}}}
],
"resolve":{"scale":{"x":"independent","y":"independent","color":"independent","size":"independent","shape":"independent"},"axis":{"x":"independent","y":"independent"},"legend":{"color":"independent"}}
}
